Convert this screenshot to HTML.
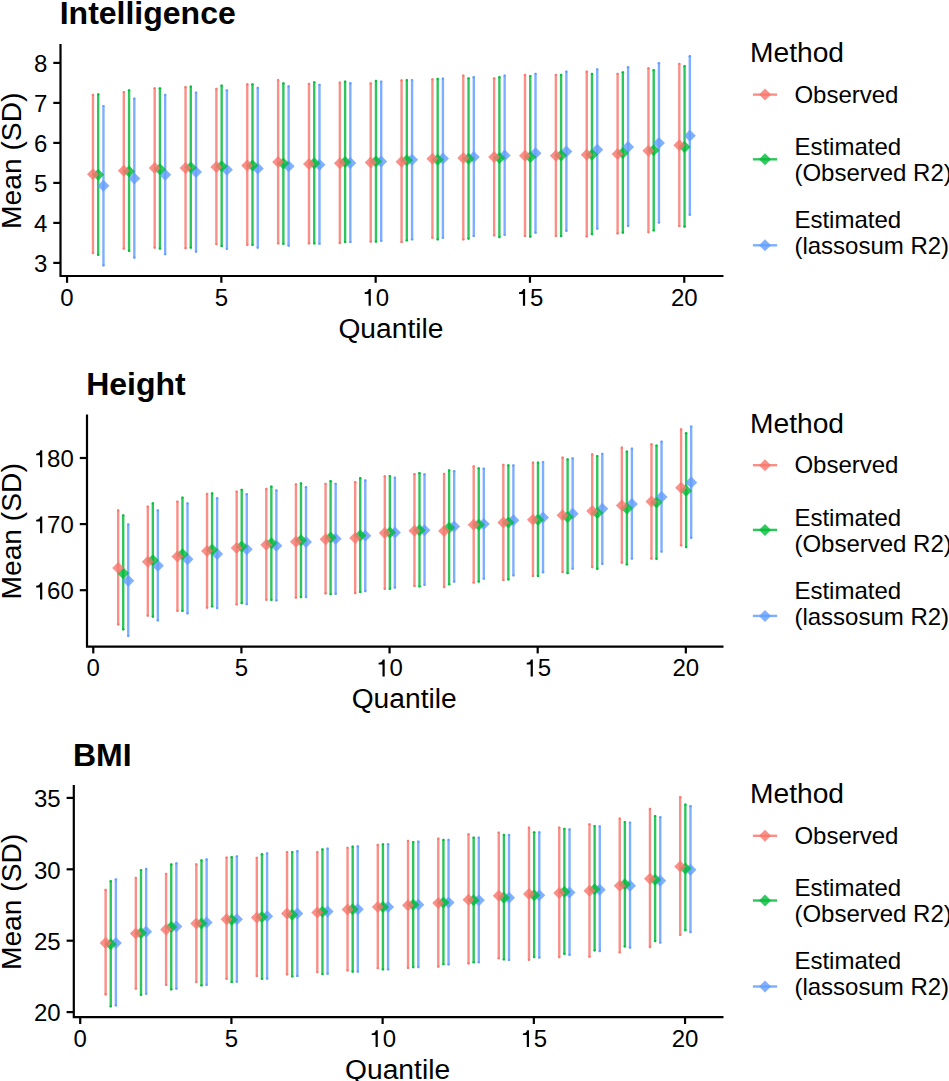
<!DOCTYPE html><html><head><meta charset="utf-8"><style>html,body{margin:0;padding:0;background:#fff;overflow:hidden}svg{display:block}text{font-family:"Liberation Sans",sans-serif;fill:#000}</style></head><body>
<svg width="949" height="1081" viewBox="0 0 949 1081">
<rect width="949" height="1081" fill="#fff"/>
<g><text x="59.7" y="24.4" font-size="32" font-weight="bold">Intelligence</text><line x1="92.96" y1="95.00" x2="92.96" y2="252.99" stroke="#F8766D" stroke-width="2.4" stroke-opacity="0.82" stroke-linecap="round"/><circle cx="92.96" cy="95.00" r="1.20" fill="#F8766D" fill-opacity="0.82"/><circle cx="92.96" cy="252.99" r="1.20" fill="#F8766D" fill-opacity="0.82"/><line x1="98.20" y1="94.55" x2="98.20" y2="254.76" stroke="#00BA38" stroke-width="2.4" stroke-opacity="0.82" stroke-linecap="round"/><circle cx="98.20" cy="94.55" r="1.20" fill="#00BA38" fill-opacity="0.82"/><circle cx="98.20" cy="254.76" r="1.20" fill="#00BA38" fill-opacity="0.82"/><line x1="103.45" y1="106.10" x2="103.45" y2="265.20" stroke="#619CFF" stroke-width="2.4" stroke-opacity="0.82" stroke-linecap="round"/><circle cx="103.45" cy="106.10" r="1.20" fill="#619CFF" fill-opacity="0.82"/><circle cx="103.45" cy="265.20" r="1.20" fill="#619CFF" fill-opacity="0.82"/><path d="M103.45 179.83L109.45 185.83L103.45 191.83L97.45 185.83Z" fill="#619CFF" fill-opacity="0.8"/><path d="M98.20 168.73L104.20 174.73L98.20 180.73L92.20 174.73Z" fill="#00BA38" fill-opacity="0.8"/><path d="M92.96 168.28L98.96 174.28L92.96 180.28L86.96 174.28Z" fill="#F8766D" fill-opacity="0.8"/><line x1="123.82" y1="92.11" x2="123.82" y2="248.55" stroke="#F8766D" stroke-width="2.4" stroke-opacity="0.82" stroke-linecap="round"/><circle cx="123.82" cy="92.11" r="1.20" fill="#F8766D" fill-opacity="0.82"/><circle cx="123.82" cy="248.55" r="1.20" fill="#F8766D" fill-opacity="0.82"/><line x1="129.07" y1="90.56" x2="129.07" y2="250.77" stroke="#00BA38" stroke-width="2.4" stroke-opacity="0.82" stroke-linecap="round"/><circle cx="129.07" cy="90.56" r="1.20" fill="#00BA38" fill-opacity="0.82"/><circle cx="129.07" cy="250.77" r="1.20" fill="#00BA38" fill-opacity="0.82"/><line x1="134.31" y1="98.77" x2="134.31" y2="257.43" stroke="#619CFF" stroke-width="2.4" stroke-opacity="0.82" stroke-linecap="round"/><circle cx="134.31" cy="98.77" r="1.20" fill="#619CFF" fill-opacity="0.82"/><circle cx="134.31" cy="257.43" r="1.20" fill="#619CFF" fill-opacity="0.82"/><path d="M134.31 172.50L140.31 178.50L134.31 184.50L128.31 178.50Z" fill="#619CFF" fill-opacity="0.8"/><path d="M129.07 165.39L135.07 171.39L129.07 177.39L123.07 171.39Z" fill="#00BA38" fill-opacity="0.8"/><path d="M123.82 164.73L129.82 170.73L123.82 176.73L117.82 170.73Z" fill="#F8766D" fill-opacity="0.8"/><line x1="154.68" y1="88.34" x2="154.68" y2="247.44" stroke="#F8766D" stroke-width="2.4" stroke-opacity="0.82" stroke-linecap="round"/><circle cx="154.68" cy="88.34" r="1.20" fill="#F8766D" fill-opacity="0.82"/><circle cx="154.68" cy="247.44" r="1.20" fill="#F8766D" fill-opacity="0.82"/><line x1="159.93" y1="88.34" x2="159.93" y2="248.55" stroke="#00BA38" stroke-width="2.4" stroke-opacity="0.82" stroke-linecap="round"/><circle cx="159.93" cy="88.34" r="1.20" fill="#00BA38" fill-opacity="0.82"/><circle cx="159.93" cy="248.55" r="1.20" fill="#00BA38" fill-opacity="0.82"/><line x1="165.17" y1="95.00" x2="165.17" y2="254.10" stroke="#619CFF" stroke-width="2.4" stroke-opacity="0.82" stroke-linecap="round"/><circle cx="165.17" cy="95.00" r="1.20" fill="#619CFF" fill-opacity="0.82"/><circle cx="165.17" cy="254.10" r="1.20" fill="#619CFF" fill-opacity="0.82"/><path d="M165.17 168.73L171.17 174.73L165.17 180.73L159.17 174.73Z" fill="#619CFF" fill-opacity="0.8"/><path d="M159.93 163.17L165.93 169.17L159.93 175.17L153.93 169.17Z" fill="#00BA38" fill-opacity="0.8"/><path d="M154.68 162.06L160.68 168.06L154.68 174.06L148.68 168.06Z" fill="#F8766D" fill-opacity="0.8"/><line x1="185.54" y1="87.23" x2="185.54" y2="248.10" stroke="#F8766D" stroke-width="2.4" stroke-opacity="0.82" stroke-linecap="round"/><circle cx="185.54" cy="87.23" r="1.20" fill="#F8766D" fill-opacity="0.82"/><circle cx="185.54" cy="248.10" r="1.20" fill="#F8766D" fill-opacity="0.82"/><line x1="190.79" y1="86.78" x2="190.79" y2="247.44" stroke="#00BA38" stroke-width="2.4" stroke-opacity="0.82" stroke-linecap="round"/><circle cx="190.79" cy="86.78" r="1.20" fill="#00BA38" fill-opacity="0.82"/><circle cx="190.79" cy="247.44" r="1.20" fill="#00BA38" fill-opacity="0.82"/><line x1="196.03" y1="92.78" x2="196.03" y2="251.43" stroke="#619CFF" stroke-width="2.4" stroke-opacity="0.82" stroke-linecap="round"/><circle cx="196.03" cy="92.78" r="1.20" fill="#619CFF" fill-opacity="0.82"/><circle cx="196.03" cy="251.43" r="1.20" fill="#619CFF" fill-opacity="0.82"/><path d="M196.03 166.06L202.03 172.06L196.03 178.06L190.03 172.06Z" fill="#619CFF" fill-opacity="0.8"/><path d="M190.79 161.40L196.79 167.40L190.79 173.40L184.79 167.40Z" fill="#00BA38" fill-opacity="0.8"/><path d="M185.54 162.06L191.54 168.06L185.54 174.06L179.54 168.06Z" fill="#F8766D" fill-opacity="0.8"/><line x1="216.40" y1="89.00" x2="216.40" y2="244.11" stroke="#F8766D" stroke-width="2.4" stroke-opacity="0.82" stroke-linecap="round"/><circle cx="216.40" cy="89.00" r="1.20" fill="#F8766D" fill-opacity="0.82"/><circle cx="216.40" cy="244.11" r="1.20" fill="#F8766D" fill-opacity="0.82"/><line x1="221.65" y1="85.67" x2="221.65" y2="245.88" stroke="#00BA38" stroke-width="2.4" stroke-opacity="0.82" stroke-linecap="round"/><circle cx="221.65" cy="85.67" r="1.20" fill="#00BA38" fill-opacity="0.82"/><circle cx="221.65" cy="245.88" r="1.20" fill="#00BA38" fill-opacity="0.82"/><line x1="226.90" y1="90.56" x2="226.90" y2="248.77" stroke="#619CFF" stroke-width="2.4" stroke-opacity="0.82" stroke-linecap="round"/><circle cx="226.90" cy="90.56" r="1.20" fill="#619CFF" fill-opacity="0.82"/><circle cx="226.90" cy="248.77" r="1.20" fill="#619CFF" fill-opacity="0.82"/><path d="M226.90 163.84L232.90 169.84L226.90 175.84L220.90 169.84Z" fill="#619CFF" fill-opacity="0.8"/><path d="M221.65 160.29L227.65 166.29L221.65 172.29L215.65 166.29Z" fill="#00BA38" fill-opacity="0.8"/><path d="M216.40 160.95L222.40 166.95L216.40 172.95L210.40 166.95Z" fill="#F8766D" fill-opacity="0.8"/><line x1="247.26" y1="84.56" x2="247.26" y2="244.77" stroke="#F8766D" stroke-width="2.4" stroke-opacity="0.82" stroke-linecap="round"/><circle cx="247.26" cy="84.56" r="1.20" fill="#F8766D" fill-opacity="0.82"/><circle cx="247.26" cy="244.77" r="1.20" fill="#F8766D" fill-opacity="0.82"/><line x1="252.51" y1="84.34" x2="252.51" y2="244.77" stroke="#00BA38" stroke-width="2.4" stroke-opacity="0.82" stroke-linecap="round"/><circle cx="252.51" cy="84.34" r="1.20" fill="#00BA38" fill-opacity="0.82"/><circle cx="252.51" cy="244.77" r="1.20" fill="#00BA38" fill-opacity="0.82"/><line x1="257.76" y1="87.89" x2="257.76" y2="247.44" stroke="#619CFF" stroke-width="2.4" stroke-opacity="0.82" stroke-linecap="round"/><circle cx="257.76" cy="87.89" r="1.20" fill="#619CFF" fill-opacity="0.82"/><circle cx="257.76" cy="247.44" r="1.20" fill="#619CFF" fill-opacity="0.82"/><path d="M257.76 162.51L263.76 168.51L257.76 174.51L251.76 168.51Z" fill="#619CFF" fill-opacity="0.8"/><path d="M252.51 159.40L258.51 165.40L252.51 171.40L246.51 165.40Z" fill="#00BA38" fill-opacity="0.8"/><path d="M247.26 159.40L253.26 165.40L247.26 171.40L241.26 165.40Z" fill="#F8766D" fill-opacity="0.8"/><line x1="278.13" y1="80.12" x2="278.13" y2="243.22" stroke="#F8766D" stroke-width="2.4" stroke-opacity="0.82" stroke-linecap="round"/><circle cx="278.13" cy="80.12" r="1.20" fill="#F8766D" fill-opacity="0.82"/><circle cx="278.13" cy="243.22" r="1.20" fill="#F8766D" fill-opacity="0.82"/><line x1="283.37" y1="83.45" x2="283.37" y2="243.66" stroke="#00BA38" stroke-width="2.4" stroke-opacity="0.82" stroke-linecap="round"/><circle cx="283.37" cy="83.45" r="1.20" fill="#00BA38" fill-opacity="0.82"/><circle cx="283.37" cy="243.66" r="1.20" fill="#00BA38" fill-opacity="0.82"/><line x1="288.62" y1="86.56" x2="288.62" y2="245.44" stroke="#619CFF" stroke-width="2.4" stroke-opacity="0.82" stroke-linecap="round"/><circle cx="288.62" cy="86.56" r="1.20" fill="#619CFF" fill-opacity="0.82"/><circle cx="288.62" cy="245.44" r="1.20" fill="#619CFF" fill-opacity="0.82"/><path d="M288.62 160.29L294.62 166.29L288.62 172.29L282.62 166.29Z" fill="#619CFF" fill-opacity="0.8"/><path d="M283.37 157.62L289.37 163.62L283.37 169.62L277.37 163.62Z" fill="#00BA38" fill-opacity="0.8"/><path d="M278.13 156.07L284.13 162.07L278.13 168.07L272.13 162.07Z" fill="#F8766D" fill-opacity="0.8"/><line x1="308.99" y1="83.89" x2="308.99" y2="243.22" stroke="#F8766D" stroke-width="2.4" stroke-opacity="0.82" stroke-linecap="round"/><circle cx="308.99" cy="83.89" r="1.20" fill="#F8766D" fill-opacity="0.82"/><circle cx="308.99" cy="243.22" r="1.20" fill="#F8766D" fill-opacity="0.82"/><line x1="314.23" y1="82.34" x2="314.23" y2="243.22" stroke="#00BA38" stroke-width="2.4" stroke-opacity="0.82" stroke-linecap="round"/><circle cx="314.23" cy="82.34" r="1.20" fill="#00BA38" fill-opacity="0.82"/><circle cx="314.23" cy="243.22" r="1.20" fill="#00BA38" fill-opacity="0.82"/><line x1="319.48" y1="85.00" x2="319.48" y2="243.66" stroke="#619CFF" stroke-width="2.4" stroke-opacity="0.82" stroke-linecap="round"/><circle cx="319.48" cy="85.00" r="1.20" fill="#619CFF" fill-opacity="0.82"/><circle cx="319.48" cy="243.66" r="1.20" fill="#619CFF" fill-opacity="0.82"/><path d="M319.48 158.73L325.48 164.73L319.48 170.73L313.48 164.73Z" fill="#619CFF" fill-opacity="0.8"/><path d="M314.23 157.18L320.23 163.18L314.23 169.18L308.23 163.18Z" fill="#00BA38" fill-opacity="0.8"/><path d="M308.99 158.07L314.99 164.07L308.99 170.07L302.99 164.07Z" fill="#F8766D" fill-opacity="0.8"/><line x1="339.85" y1="82.78" x2="339.85" y2="243.00" stroke="#F8766D" stroke-width="2.4" stroke-opacity="0.82" stroke-linecap="round"/><circle cx="339.85" cy="82.78" r="1.20" fill="#F8766D" fill-opacity="0.82"/><circle cx="339.85" cy="243.00" r="1.20" fill="#F8766D" fill-opacity="0.82"/><line x1="345.09" y1="81.67" x2="345.09" y2="241.89" stroke="#00BA38" stroke-width="2.4" stroke-opacity="0.82" stroke-linecap="round"/><circle cx="345.09" cy="81.67" r="1.20" fill="#00BA38" fill-opacity="0.82"/><circle cx="345.09" cy="241.89" r="1.20" fill="#00BA38" fill-opacity="0.82"/><line x1="350.34" y1="83.23" x2="350.34" y2="241.89" stroke="#619CFF" stroke-width="2.4" stroke-opacity="0.82" stroke-linecap="round"/><circle cx="350.34" cy="83.23" r="1.20" fill="#619CFF" fill-opacity="0.82"/><circle cx="350.34" cy="241.89" r="1.20" fill="#619CFF" fill-opacity="0.82"/><path d="M350.34 156.96L356.34 162.96L350.34 168.96L344.34 162.96Z" fill="#619CFF" fill-opacity="0.8"/><path d="M345.09 156.07L351.09 162.07L345.09 168.07L339.09 162.07Z" fill="#00BA38" fill-opacity="0.8"/><path d="M339.85 157.18L345.85 163.18L339.85 169.18L333.85 163.18Z" fill="#F8766D" fill-opacity="0.8"/><line x1="370.71" y1="83.45" x2="370.71" y2="241.44" stroke="#F8766D" stroke-width="2.4" stroke-opacity="0.82" stroke-linecap="round"/><circle cx="370.71" cy="83.45" r="1.20" fill="#F8766D" fill-opacity="0.82"/><circle cx="370.71" cy="241.44" r="1.20" fill="#F8766D" fill-opacity="0.82"/><line x1="375.96" y1="81.01" x2="375.96" y2="241.44" stroke="#00BA38" stroke-width="2.4" stroke-opacity="0.82" stroke-linecap="round"/><circle cx="375.96" cy="81.01" r="1.20" fill="#00BA38" fill-opacity="0.82"/><circle cx="375.96" cy="241.44" r="1.20" fill="#00BA38" fill-opacity="0.82"/><line x1="381.20" y1="81.67" x2="381.20" y2="240.78" stroke="#619CFF" stroke-width="2.4" stroke-opacity="0.82" stroke-linecap="round"/><circle cx="381.20" cy="81.67" r="1.20" fill="#619CFF" fill-opacity="0.82"/><circle cx="381.20" cy="240.78" r="1.20" fill="#619CFF" fill-opacity="0.82"/><path d="M381.20 155.40L387.20 161.40L381.20 167.40L375.20 161.40Z" fill="#619CFF" fill-opacity="0.8"/><path d="M375.96 155.40L381.96 161.40L375.96 167.40L369.96 161.40Z" fill="#00BA38" fill-opacity="0.8"/><path d="M370.71 156.51L376.71 162.51L370.71 168.51L364.71 162.51Z" fill="#F8766D" fill-opacity="0.8"/><line x1="401.57" y1="80.56" x2="401.57" y2="241.89" stroke="#F8766D" stroke-width="2.4" stroke-opacity="0.82" stroke-linecap="round"/><circle cx="401.57" cy="80.56" r="1.20" fill="#F8766D" fill-opacity="0.82"/><circle cx="401.57" cy="241.89" r="1.20" fill="#F8766D" fill-opacity="0.82"/><line x1="406.82" y1="80.12" x2="406.82" y2="240.33" stroke="#00BA38" stroke-width="2.4" stroke-opacity="0.82" stroke-linecap="round"/><circle cx="406.82" cy="80.12" r="1.20" fill="#00BA38" fill-opacity="0.82"/><circle cx="406.82" cy="240.33" r="1.20" fill="#00BA38" fill-opacity="0.82"/><line x1="412.06" y1="80.12" x2="412.06" y2="239.22" stroke="#619CFF" stroke-width="2.4" stroke-opacity="0.82" stroke-linecap="round"/><circle cx="412.06" cy="80.12" r="1.20" fill="#619CFF" fill-opacity="0.82"/><circle cx="412.06" cy="239.22" r="1.20" fill="#619CFF" fill-opacity="0.82"/><path d="M412.06 153.85L418.06 159.85L412.06 165.85L406.06 159.85Z" fill="#619CFF" fill-opacity="0.8"/><path d="M406.82 154.29L412.82 160.29L406.82 166.29L400.82 160.29Z" fill="#00BA38" fill-opacity="0.8"/><path d="M401.57 155.85L407.57 161.85L401.57 167.85L395.57 161.85Z" fill="#F8766D" fill-opacity="0.8"/><line x1="432.43" y1="79.45" x2="432.43" y2="237.67" stroke="#F8766D" stroke-width="2.4" stroke-opacity="0.82" stroke-linecap="round"/><circle cx="432.43" cy="79.45" r="1.20" fill="#F8766D" fill-opacity="0.82"/><circle cx="432.43" cy="237.67" r="1.20" fill="#F8766D" fill-opacity="0.82"/><line x1="437.68" y1="79.01" x2="437.68" y2="239.22" stroke="#00BA38" stroke-width="2.4" stroke-opacity="0.82" stroke-linecap="round"/><circle cx="437.68" cy="79.01" r="1.20" fill="#00BA38" fill-opacity="0.82"/><circle cx="437.68" cy="239.22" r="1.20" fill="#00BA38" fill-opacity="0.82"/><line x1="442.92" y1="78.79" x2="442.92" y2="237.67" stroke="#619CFF" stroke-width="2.4" stroke-opacity="0.82" stroke-linecap="round"/><circle cx="442.92" cy="78.79" r="1.20" fill="#619CFF" fill-opacity="0.82"/><circle cx="442.92" cy="237.67" r="1.20" fill="#619CFF" fill-opacity="0.82"/><path d="M442.92 152.52L448.92 158.52L442.92 164.52L436.92 158.52Z" fill="#619CFF" fill-opacity="0.8"/><path d="M437.68 153.63L443.68 159.63L437.68 165.63L431.68 159.63Z" fill="#00BA38" fill-opacity="0.8"/><path d="M432.43 152.74L438.43 158.74L432.43 164.74L426.43 158.74Z" fill="#F8766D" fill-opacity="0.8"/><line x1="463.29" y1="75.68" x2="463.29" y2="239.22" stroke="#F8766D" stroke-width="2.4" stroke-opacity="0.82" stroke-linecap="round"/><circle cx="463.29" cy="75.68" r="1.20" fill="#F8766D" fill-opacity="0.82"/><circle cx="463.29" cy="239.22" r="1.20" fill="#F8766D" fill-opacity="0.82"/><line x1="468.54" y1="78.34" x2="468.54" y2="238.56" stroke="#00BA38" stroke-width="2.4" stroke-opacity="0.82" stroke-linecap="round"/><circle cx="468.54" cy="78.34" r="1.20" fill="#00BA38" fill-opacity="0.82"/><circle cx="468.54" cy="238.56" r="1.20" fill="#00BA38" fill-opacity="0.82"/><line x1="473.79" y1="77.23" x2="473.79" y2="235.89" stroke="#619CFF" stroke-width="2.4" stroke-opacity="0.82" stroke-linecap="round"/><circle cx="473.79" cy="77.23" r="1.20" fill="#619CFF" fill-opacity="0.82"/><circle cx="473.79" cy="235.89" r="1.20" fill="#619CFF" fill-opacity="0.82"/><path d="M473.79 150.96L479.79 156.96L473.79 162.96L467.79 156.96Z" fill="#619CFF" fill-opacity="0.8"/><path d="M468.54 152.74L474.54 158.74L468.54 164.74L462.54 158.74Z" fill="#00BA38" fill-opacity="0.8"/><path d="M463.29 152.07L469.29 158.07L463.29 164.07L457.29 158.07Z" fill="#F8766D" fill-opacity="0.8"/><line x1="494.15" y1="78.34" x2="494.15" y2="235.23" stroke="#F8766D" stroke-width="2.4" stroke-opacity="0.82" stroke-linecap="round"/><circle cx="494.15" cy="78.34" r="1.20" fill="#F8766D" fill-opacity="0.82"/><circle cx="494.15" cy="235.23" r="1.20" fill="#F8766D" fill-opacity="0.82"/><line x1="499.40" y1="77.23" x2="499.40" y2="237.00" stroke="#00BA38" stroke-width="2.4" stroke-opacity="0.82" stroke-linecap="round"/><circle cx="499.40" cy="77.23" r="1.20" fill="#00BA38" fill-opacity="0.82"/><circle cx="499.40" cy="237.00" r="1.20" fill="#00BA38" fill-opacity="0.82"/><line x1="504.65" y1="75.68" x2="504.65" y2="234.78" stroke="#619CFF" stroke-width="2.4" stroke-opacity="0.82" stroke-linecap="round"/><circle cx="504.65" cy="75.68" r="1.20" fill="#619CFF" fill-opacity="0.82"/><circle cx="504.65" cy="234.78" r="1.20" fill="#619CFF" fill-opacity="0.82"/><path d="M504.65 149.41L510.65 155.41L504.65 161.41L498.65 155.41Z" fill="#619CFF" fill-opacity="0.8"/><path d="M499.40 152.07L505.40 158.07L499.40 164.07L493.40 158.07Z" fill="#00BA38" fill-opacity="0.8"/><path d="M494.15 150.96L500.15 156.96L494.15 162.96L488.15 156.96Z" fill="#F8766D" fill-opacity="0.8"/><line x1="525.02" y1="75.01" x2="525.02" y2="235.89" stroke="#F8766D" stroke-width="2.4" stroke-opacity="0.82" stroke-linecap="round"/><circle cx="525.02" cy="75.01" r="1.20" fill="#F8766D" fill-opacity="0.82"/><circle cx="525.02" cy="235.89" r="1.20" fill="#F8766D" fill-opacity="0.82"/><line x1="530.26" y1="76.12" x2="530.26" y2="236.56" stroke="#00BA38" stroke-width="2.4" stroke-opacity="0.82" stroke-linecap="round"/><circle cx="530.26" cy="76.12" r="1.20" fill="#00BA38" fill-opacity="0.82"/><circle cx="530.26" cy="236.56" r="1.20" fill="#00BA38" fill-opacity="0.82"/><line x1="535.51" y1="73.90" x2="535.51" y2="232.56" stroke="#619CFF" stroke-width="2.4" stroke-opacity="0.82" stroke-linecap="round"/><circle cx="535.51" cy="73.90" r="1.20" fill="#619CFF" fill-opacity="0.82"/><circle cx="535.51" cy="232.56" r="1.20" fill="#619CFF" fill-opacity="0.82"/><path d="M535.51 147.19L541.51 153.19L535.51 159.19L529.51 153.19Z" fill="#619CFF" fill-opacity="0.8"/><path d="M530.26 150.96L536.26 156.96L530.26 162.96L524.26 156.96Z" fill="#00BA38" fill-opacity="0.8"/><path d="M525.02 149.85L531.02 155.85L525.02 161.85L519.02 155.85Z" fill="#F8766D" fill-opacity="0.8"/><line x1="555.88" y1="75.01" x2="555.88" y2="235.89" stroke="#F8766D" stroke-width="2.4" stroke-opacity="0.82" stroke-linecap="round"/><circle cx="555.88" cy="75.01" r="1.20" fill="#F8766D" fill-opacity="0.82"/><circle cx="555.88" cy="235.89" r="1.20" fill="#F8766D" fill-opacity="0.82"/><line x1="561.12" y1="75.01" x2="561.12" y2="235.89" stroke="#00BA38" stroke-width="2.4" stroke-opacity="0.82" stroke-linecap="round"/><circle cx="561.12" cy="75.01" r="1.20" fill="#00BA38" fill-opacity="0.82"/><circle cx="561.12" cy="235.89" r="1.20" fill="#00BA38" fill-opacity="0.82"/><line x1="566.37" y1="71.68" x2="566.37" y2="230.79" stroke="#619CFF" stroke-width="2.4" stroke-opacity="0.82" stroke-linecap="round"/><circle cx="566.37" cy="71.68" r="1.20" fill="#619CFF" fill-opacity="0.82"/><circle cx="566.37" cy="230.79" r="1.20" fill="#619CFF" fill-opacity="0.82"/><path d="M566.37 145.41L572.37 151.41L566.37 157.41L560.37 151.41Z" fill="#619CFF" fill-opacity="0.8"/><path d="M561.12 149.41L567.12 155.41L561.12 161.41L555.12 155.41Z" fill="#00BA38" fill-opacity="0.8"/><path d="M555.88 149.85L561.88 155.85L555.88 161.85L549.88 155.85Z" fill="#F8766D" fill-opacity="0.8"/><line x1="586.74" y1="71.68" x2="586.74" y2="236.34" stroke="#F8766D" stroke-width="2.4" stroke-opacity="0.82" stroke-linecap="round"/><circle cx="586.74" cy="71.68" r="1.20" fill="#F8766D" fill-opacity="0.82"/><circle cx="586.74" cy="236.34" r="1.20" fill="#F8766D" fill-opacity="0.82"/><line x1="591.98" y1="73.90" x2="591.98" y2="234.12" stroke="#00BA38" stroke-width="2.4" stroke-opacity="0.82" stroke-linecap="round"/><circle cx="591.98" cy="73.90" r="1.20" fill="#00BA38" fill-opacity="0.82"/><circle cx="591.98" cy="234.12" r="1.20" fill="#00BA38" fill-opacity="0.82"/><line x1="597.23" y1="69.46" x2="597.23" y2="228.57" stroke="#619CFF" stroke-width="2.4" stroke-opacity="0.82" stroke-linecap="round"/><circle cx="597.23" cy="69.46" r="1.20" fill="#619CFF" fill-opacity="0.82"/><circle cx="597.23" cy="228.57" r="1.20" fill="#619CFF" fill-opacity="0.82"/><path d="M597.23 143.64L603.23 149.64L597.23 155.64L591.23 149.64Z" fill="#619CFF" fill-opacity="0.8"/><path d="M591.98 148.74L597.98 154.74L591.98 160.74L585.98 154.74Z" fill="#00BA38" fill-opacity="0.8"/><path d="M586.74 148.74L592.74 154.74L586.74 160.74L580.74 154.74Z" fill="#F8766D" fill-opacity="0.8"/><line x1="617.60" y1="73.90" x2="617.60" y2="233.23" stroke="#F8766D" stroke-width="2.4" stroke-opacity="0.82" stroke-linecap="round"/><circle cx="617.60" cy="73.90" r="1.20" fill="#F8766D" fill-opacity="0.82"/><circle cx="617.60" cy="233.23" r="1.20" fill="#F8766D" fill-opacity="0.82"/><line x1="622.85" y1="72.35" x2="622.85" y2="232.56" stroke="#00BA38" stroke-width="2.4" stroke-opacity="0.82" stroke-linecap="round"/><circle cx="622.85" cy="72.35" r="1.20" fill="#00BA38" fill-opacity="0.82"/><circle cx="622.85" cy="232.56" r="1.20" fill="#00BA38" fill-opacity="0.82"/><line x1="628.09" y1="67.24" x2="628.09" y2="225.90" stroke="#619CFF" stroke-width="2.4" stroke-opacity="0.82" stroke-linecap="round"/><circle cx="628.09" cy="67.24" r="1.20" fill="#619CFF" fill-opacity="0.82"/><circle cx="628.09" cy="225.90" r="1.20" fill="#619CFF" fill-opacity="0.82"/><path d="M628.09 140.97L634.09 146.97L628.09 152.97L622.09 146.97Z" fill="#619CFF" fill-opacity="0.8"/><path d="M622.85 146.97L628.85 152.97L622.85 158.97L616.85 152.97Z" fill="#00BA38" fill-opacity="0.8"/><path d="M617.60 148.08L623.60 154.08L617.60 160.08L611.60 154.08Z" fill="#F8766D" fill-opacity="0.8"/><line x1="648.46" y1="68.35" x2="648.46" y2="232.12" stroke="#F8766D" stroke-width="2.4" stroke-opacity="0.82" stroke-linecap="round"/><circle cx="648.46" cy="68.35" r="1.20" fill="#F8766D" fill-opacity="0.82"/><circle cx="648.46" cy="232.12" r="1.20" fill="#F8766D" fill-opacity="0.82"/><line x1="653.71" y1="70.13" x2="653.71" y2="230.34" stroke="#00BA38" stroke-width="2.4" stroke-opacity="0.82" stroke-linecap="round"/><circle cx="653.71" cy="70.13" r="1.20" fill="#00BA38" fill-opacity="0.82"/><circle cx="653.71" cy="230.34" r="1.20" fill="#00BA38" fill-opacity="0.82"/><line x1="658.95" y1="63.25" x2="658.95" y2="222.57" stroke="#619CFF" stroke-width="2.4" stroke-opacity="0.82" stroke-linecap="round"/><circle cx="658.95" cy="63.25" r="1.20" fill="#619CFF" fill-opacity="0.82"/><circle cx="658.95" cy="222.57" r="1.20" fill="#619CFF" fill-opacity="0.82"/><path d="M658.95 136.98L664.95 142.98L658.95 148.98L652.95 142.98Z" fill="#619CFF" fill-opacity="0.8"/><path d="M653.71 144.30L659.71 150.30L653.71 156.30L647.71 150.30Z" fill="#00BA38" fill-opacity="0.8"/><path d="M648.46 144.75L654.46 150.75L648.46 156.75L642.46 150.75Z" fill="#F8766D" fill-opacity="0.8"/><line x1="679.32" y1="63.91" x2="679.32" y2="225.90" stroke="#F8766D" stroke-width="2.4" stroke-opacity="0.82" stroke-linecap="round"/><circle cx="679.32" cy="63.91" r="1.20" fill="#F8766D" fill-opacity="0.82"/><circle cx="679.32" cy="225.90" r="1.20" fill="#F8766D" fill-opacity="0.82"/><line x1="684.57" y1="66.13" x2="684.57" y2="226.57" stroke="#00BA38" stroke-width="2.4" stroke-opacity="0.82" stroke-linecap="round"/><circle cx="684.57" cy="66.13" r="1.20" fill="#00BA38" fill-opacity="0.82"/><circle cx="684.57" cy="226.57" r="1.20" fill="#00BA38" fill-opacity="0.82"/><line x1="689.81" y1="56.14" x2="689.81" y2="214.80" stroke="#619CFF" stroke-width="2.4" stroke-opacity="0.82" stroke-linecap="round"/><circle cx="689.81" cy="56.14" r="1.20" fill="#619CFF" fill-opacity="0.82"/><circle cx="689.81" cy="214.80" r="1.20" fill="#619CFF" fill-opacity="0.82"/><path d="M689.81 129.87L695.81 135.87L689.81 141.87L683.81 135.87Z" fill="#619CFF" fill-opacity="0.8"/><path d="M684.57 140.97L690.57 146.97L684.57 152.97L678.57 146.97Z" fill="#00BA38" fill-opacity="0.8"/><path d="M679.32 139.20L685.32 145.20L679.32 151.20L673.32 145.20Z" fill="#F8766D" fill-opacity="0.8"/><path d="M60.50 45.00V276.00H722.40" fill="none" stroke="#000" stroke-width="2.2" stroke-linejoin="miter" stroke-linecap="square"/><line x1="53.30" y1="262.90" x2="60.50" y2="262.90" stroke="#000" stroke-width="2.2" stroke-linecap="butt"/><text x="33.96" y="272.10" font-size="24.0">3</text><line x1="53.30" y1="222.90" x2="60.50" y2="222.90" stroke="#000" stroke-width="2.2" stroke-linecap="butt"/><text x="33.96" y="232.10" font-size="24.0">4</text><line x1="53.30" y1="182.90" x2="60.50" y2="182.90" stroke="#000" stroke-width="2.2" stroke-linecap="butt"/><text x="33.96" y="192.10" font-size="24.0">5</text><line x1="53.30" y1="142.90" x2="60.50" y2="142.90" stroke="#000" stroke-width="2.2" stroke-linecap="butt"/><text x="33.96" y="152.10" font-size="24.0">6</text><line x1="53.30" y1="102.90" x2="60.50" y2="102.90" stroke="#000" stroke-width="2.2" stroke-linecap="butt"/><text x="33.96" y="112.10" font-size="24.0">7</text><line x1="53.30" y1="62.90" x2="60.50" y2="62.90" stroke="#000" stroke-width="2.2" stroke-linecap="butt"/><text x="33.96" y="72.10" font-size="24.0">8</text><line x1="67.04" y1="276.00" x2="67.04" y2="282.80" stroke="#000" stroke-width="2.2" stroke-linecap="butt"/><text x="60.37" y="305.80" font-size="24.0">0</text><line x1="221.35" y1="276.00" x2="221.35" y2="282.80" stroke="#000" stroke-width="2.2" stroke-linecap="butt"/><text x="214.68" y="305.80" font-size="24.0">5</text><line x1="375.66" y1="276.00" x2="375.66" y2="282.80" stroke="#000" stroke-width="2.2" stroke-linecap="butt"/><path transform="translate(362.31 305.80) scale(0.0240 -0.0240)" d="M354 0L262 0L262 496L100 496L100 565C200 572 250 605 272 702L354 702Z"/><text x="375.66" y="305.80" font-size="24.0">0</text><line x1="529.96" y1="276.00" x2="529.96" y2="282.80" stroke="#000" stroke-width="2.2" stroke-linecap="butt"/><path transform="translate(516.62 305.80) scale(0.0240 -0.0240)" d="M354 0L262 0L262 496L100 496L100 565C200 572 250 605 272 702L354 702Z"/><text x="529.96" y="305.80" font-size="24.0">5</text><line x1="684.27" y1="276.00" x2="684.27" y2="282.80" stroke="#000" stroke-width="2.2" stroke-linecap="butt"/><text x="670.92" y="305.80" font-size="24.0">2</text><text x="684.27" y="305.80" font-size="24.0">0</text><text x="390.95" y="337.50" font-size="28.2" text-anchor="middle">Quantile</text><text transform="translate(20.6 160.75) rotate(-90)" x="0" y="0" font-size="28.2" text-anchor="middle">Mean (SD)</text><text x="750.0" y="61.90" font-size="28.2">Method</text><line x1="752.9" y1="94.60" x2="777.1" y2="94.60" stroke="#F8766D" stroke-width="2.4" stroke-opacity="0.82"/><path d="M765.00 88.60L771.00 94.60L765.00 100.60L759.00 94.60Z" fill="#F8766D" fill-opacity="0.8"/><line x1="752.9" y1="159.30" x2="777.1" y2="159.30" stroke="#00BA38" stroke-width="2.4" stroke-opacity="0.82"/><path d="M765.00 153.30L771.00 159.30L765.00 165.30L759.00 159.30Z" fill="#00BA38" fill-opacity="0.8"/><line x1="752.9" y1="245.30" x2="777.1" y2="245.30" stroke="#619CFF" stroke-width="2.4" stroke-opacity="0.82"/><path d="M765.00 239.30L771.00 245.30L765.00 251.30L759.00 245.30Z" fill="#619CFF" fill-opacity="0.8"/><text x="794.4" y="102.80" font-size="24.0">Observed</text><text x="794.4" y="154.90" font-size="24.0">Estimated</text><text x="794.4" y="181.00" font-size="24.0">(Observed R2)</text><text x="794.4" y="228.20" font-size="24.0">Estimated</text><text x="794.4" y="253.90" font-size="24.0">(lassosum R2)</text></g>
<g><text x="86.2" y="395.0" font-size="32" font-weight="bold">Height</text><line x1="118.17" y1="510.51" x2="118.17" y2="624.32" stroke="#F8766D" stroke-width="2.4" stroke-opacity="0.82" stroke-linecap="round"/><circle cx="118.17" cy="510.51" r="1.20" fill="#F8766D" fill-opacity="0.82"/><circle cx="118.17" cy="624.32" r="1.20" fill="#F8766D" fill-opacity="0.82"/><line x1="123.21" y1="515.40" x2="123.21" y2="629.20" stroke="#00BA38" stroke-width="2.4" stroke-opacity="0.82" stroke-linecap="round"/><circle cx="123.21" cy="515.40" r="1.20" fill="#00BA38" fill-opacity="0.82"/><circle cx="123.21" cy="629.20" r="1.20" fill="#00BA38" fill-opacity="0.82"/><line x1="128.25" y1="524.50" x2="128.25" y2="635.87" stroke="#619CFF" stroke-width="2.4" stroke-opacity="0.82" stroke-linecap="round"/><circle cx="128.25" cy="524.50" r="1.20" fill="#619CFF" fill-opacity="0.82"/><circle cx="128.25" cy="635.87" r="1.20" fill="#619CFF" fill-opacity="0.82"/><path d="M128.25 574.69L134.25 580.69L128.25 586.69L122.25 580.69Z" fill="#619CFF" fill-opacity="0.8"/><path d="M123.21 567.14L129.21 573.14L123.21 579.14L117.21 573.14Z" fill="#00BA38" fill-opacity="0.8"/><path d="M118.17 562.04L124.17 568.04L118.17 574.04L112.17 568.04Z" fill="#F8766D" fill-opacity="0.8"/><line x1="147.80" y1="506.74" x2="147.80" y2="615.44" stroke="#F8766D" stroke-width="2.4" stroke-opacity="0.82" stroke-linecap="round"/><circle cx="147.80" cy="506.74" r="1.20" fill="#F8766D" fill-opacity="0.82"/><circle cx="147.80" cy="615.44" r="1.20" fill="#F8766D" fill-opacity="0.82"/><line x1="152.84" y1="503.41" x2="152.84" y2="616.55" stroke="#00BA38" stroke-width="2.4" stroke-opacity="0.82" stroke-linecap="round"/><circle cx="152.84" cy="503.41" r="1.20" fill="#00BA38" fill-opacity="0.82"/><circle cx="152.84" cy="616.55" r="1.20" fill="#00BA38" fill-opacity="0.82"/><line x1="157.87" y1="510.51" x2="157.87" y2="620.32" stroke="#619CFF" stroke-width="2.4" stroke-opacity="0.82" stroke-linecap="round"/><circle cx="157.87" cy="510.51" r="1.20" fill="#619CFF" fill-opacity="0.82"/><circle cx="157.87" cy="620.32" r="1.20" fill="#619CFF" fill-opacity="0.82"/><path d="M157.87 559.82L163.87 565.82L157.87 571.82L151.87 565.82Z" fill="#619CFF" fill-opacity="0.8"/><path d="M152.84 554.27L158.84 560.27L152.84 566.27L146.84 560.27Z" fill="#00BA38" fill-opacity="0.8"/><path d="M147.80 555.82L153.80 561.82L147.80 567.82L141.80 561.82Z" fill="#F8766D" fill-opacity="0.8"/><line x1="177.43" y1="501.63" x2="177.43" y2="610.78" stroke="#F8766D" stroke-width="2.4" stroke-opacity="0.82" stroke-linecap="round"/><circle cx="177.43" cy="501.63" r="1.20" fill="#F8766D" fill-opacity="0.82"/><circle cx="177.43" cy="610.78" r="1.20" fill="#F8766D" fill-opacity="0.82"/><line x1="182.46" y1="497.63" x2="182.46" y2="610.78" stroke="#00BA38" stroke-width="2.4" stroke-opacity="0.82" stroke-linecap="round"/><circle cx="182.46" cy="497.63" r="1.20" fill="#00BA38" fill-opacity="0.82"/><circle cx="182.46" cy="610.78" r="1.20" fill="#00BA38" fill-opacity="0.82"/><line x1="187.50" y1="503.41" x2="187.50" y2="613.22" stroke="#619CFF" stroke-width="2.4" stroke-opacity="0.82" stroke-linecap="round"/><circle cx="187.50" cy="503.41" r="1.20" fill="#619CFF" fill-opacity="0.82"/><circle cx="187.50" cy="613.22" r="1.20" fill="#619CFF" fill-opacity="0.82"/><path d="M187.50 553.16L193.50 559.16L187.50 565.16L181.50 559.16Z" fill="#619CFF" fill-opacity="0.8"/><path d="M182.46 548.27L188.46 554.27L182.46 560.27L176.46 554.27Z" fill="#00BA38" fill-opacity="0.8"/><path d="M177.43 550.49L183.43 556.49L177.43 562.49L171.43 556.49Z" fill="#F8766D" fill-opacity="0.8"/><line x1="207.05" y1="493.86" x2="207.05" y2="607.45" stroke="#F8766D" stroke-width="2.4" stroke-opacity="0.82" stroke-linecap="round"/><circle cx="207.05" cy="493.86" r="1.20" fill="#F8766D" fill-opacity="0.82"/><circle cx="207.05" cy="607.45" r="1.20" fill="#F8766D" fill-opacity="0.82"/><line x1="212.09" y1="493.42" x2="212.09" y2="606.34" stroke="#00BA38" stroke-width="2.4" stroke-opacity="0.82" stroke-linecap="round"/><circle cx="212.09" cy="493.42" r="1.20" fill="#00BA38" fill-opacity="0.82"/><circle cx="212.09" cy="606.34" r="1.20" fill="#00BA38" fill-opacity="0.82"/><line x1="217.13" y1="498.30" x2="217.13" y2="608.11" stroke="#619CFF" stroke-width="2.4" stroke-opacity="0.82" stroke-linecap="round"/><circle cx="217.13" cy="498.30" r="1.20" fill="#619CFF" fill-opacity="0.82"/><circle cx="217.13" cy="608.11" r="1.20" fill="#619CFF" fill-opacity="0.82"/><path d="M217.13 548.05L223.13 554.05L217.13 560.05L211.13 554.05Z" fill="#619CFF" fill-opacity="0.8"/><path d="M212.09 543.83L218.09 549.83L212.09 555.83L206.09 549.83Z" fill="#00BA38" fill-opacity="0.8"/><path d="M207.05 544.94L213.05 550.94L207.05 556.94L201.05 550.94Z" fill="#F8766D" fill-opacity="0.8"/><line x1="236.68" y1="491.64" x2="236.68" y2="604.34" stroke="#F8766D" stroke-width="2.4" stroke-opacity="0.82" stroke-linecap="round"/><circle cx="236.68" cy="491.64" r="1.20" fill="#F8766D" fill-opacity="0.82"/><circle cx="236.68" cy="604.34" r="1.20" fill="#F8766D" fill-opacity="0.82"/><line x1="241.72" y1="489.86" x2="241.72" y2="603.01" stroke="#00BA38" stroke-width="2.4" stroke-opacity="0.82" stroke-linecap="round"/><circle cx="241.72" cy="489.86" r="1.20" fill="#00BA38" fill-opacity="0.82"/><circle cx="241.72" cy="603.01" r="1.20" fill="#00BA38" fill-opacity="0.82"/><line x1="246.76" y1="494.30" x2="246.76" y2="604.12" stroke="#619CFF" stroke-width="2.4" stroke-opacity="0.82" stroke-linecap="round"/><circle cx="246.76" cy="494.30" r="1.20" fill="#619CFF" fill-opacity="0.82"/><circle cx="246.76" cy="604.12" r="1.20" fill="#619CFF" fill-opacity="0.82"/><path d="M246.76 543.17L252.76 549.17L246.76 555.17L240.76 549.17Z" fill="#619CFF" fill-opacity="0.8"/><path d="M241.72 540.50L247.72 546.50L241.72 552.50L235.72 546.50Z" fill="#00BA38" fill-opacity="0.8"/><path d="M236.68 542.06L242.68 548.06L236.68 554.06L230.68 548.06Z" fill="#F8766D" fill-opacity="0.8"/><line x1="266.31" y1="488.97" x2="266.31" y2="599.68" stroke="#F8766D" stroke-width="2.4" stroke-opacity="0.82" stroke-linecap="round"/><circle cx="266.31" cy="488.97" r="1.20" fill="#F8766D" fill-opacity="0.82"/><circle cx="266.31" cy="599.68" r="1.20" fill="#F8766D" fill-opacity="0.82"/><line x1="271.35" y1="486.75" x2="271.35" y2="599.68" stroke="#00BA38" stroke-width="2.4" stroke-opacity="0.82" stroke-linecap="round"/><circle cx="271.35" cy="486.75" r="1.20" fill="#00BA38" fill-opacity="0.82"/><circle cx="271.35" cy="599.68" r="1.20" fill="#00BA38" fill-opacity="0.82"/><line x1="276.38" y1="490.53" x2="276.38" y2="600.34" stroke="#619CFF" stroke-width="2.4" stroke-opacity="0.82" stroke-linecap="round"/><circle cx="276.38" cy="490.53" r="1.20" fill="#619CFF" fill-opacity="0.82"/><circle cx="276.38" cy="600.34" r="1.20" fill="#619CFF" fill-opacity="0.82"/><path d="M276.38 539.84L282.38 545.84L276.38 551.84L270.38 545.84Z" fill="#619CFF" fill-opacity="0.8"/><path d="M271.35 537.17L277.35 543.17L271.35 549.17L265.35 543.17Z" fill="#00BA38" fill-opacity="0.8"/><path d="M266.31 538.73L272.31 544.73L266.31 550.73L260.31 544.73Z" fill="#F8766D" fill-opacity="0.8"/><line x1="295.94" y1="484.53" x2="295.94" y2="597.46" stroke="#F8766D" stroke-width="2.4" stroke-opacity="0.82" stroke-linecap="round"/><circle cx="295.94" cy="484.53" r="1.20" fill="#F8766D" fill-opacity="0.82"/><circle cx="295.94" cy="597.46" r="1.20" fill="#F8766D" fill-opacity="0.82"/><line x1="300.97" y1="483.42" x2="300.97" y2="597.01" stroke="#00BA38" stroke-width="2.4" stroke-opacity="0.82" stroke-linecap="round"/><circle cx="300.97" cy="483.42" r="1.20" fill="#00BA38" fill-opacity="0.82"/><circle cx="300.97" cy="597.01" r="1.20" fill="#00BA38" fill-opacity="0.82"/><line x1="306.01" y1="487.20" x2="306.01" y2="597.01" stroke="#619CFF" stroke-width="2.4" stroke-opacity="0.82" stroke-linecap="round"/><circle cx="306.01" cy="487.20" r="1.20" fill="#619CFF" fill-opacity="0.82"/><circle cx="306.01" cy="597.01" r="1.20" fill="#619CFF" fill-opacity="0.82"/><path d="M306.01 536.06L312.01 542.06L306.01 548.06L300.01 542.06Z" fill="#619CFF" fill-opacity="0.8"/><path d="M300.97 534.28L306.97 540.28L300.97 546.28L294.97 540.28Z" fill="#00BA38" fill-opacity="0.8"/><path d="M295.94 535.84L301.94 541.84L295.94 547.84L289.94 541.84Z" fill="#F8766D" fill-opacity="0.8"/><line x1="325.56" y1="483.87" x2="325.56" y2="593.24" stroke="#F8766D" stroke-width="2.4" stroke-opacity="0.82" stroke-linecap="round"/><circle cx="325.56" cy="483.87" r="1.20" fill="#F8766D" fill-opacity="0.82"/><circle cx="325.56" cy="593.24" r="1.20" fill="#F8766D" fill-opacity="0.82"/><line x1="330.60" y1="481.20" x2="330.60" y2="594.12" stroke="#00BA38" stroke-width="2.4" stroke-opacity="0.82" stroke-linecap="round"/><circle cx="330.60" cy="481.20" r="1.20" fill="#00BA38" fill-opacity="0.82"/><circle cx="330.60" cy="594.12" r="1.20" fill="#00BA38" fill-opacity="0.82"/><line x1="335.64" y1="483.87" x2="335.64" y2="593.68" stroke="#619CFF" stroke-width="2.4" stroke-opacity="0.82" stroke-linecap="round"/><circle cx="335.64" cy="483.87" r="1.20" fill="#619CFF" fill-opacity="0.82"/><circle cx="335.64" cy="593.68" r="1.20" fill="#619CFF" fill-opacity="0.82"/><path d="M335.64 532.73L341.64 538.73L335.64 544.73L329.64 538.73Z" fill="#619CFF" fill-opacity="0.8"/><path d="M330.60 531.40L336.60 537.40L330.60 543.40L324.60 537.40Z" fill="#00BA38" fill-opacity="0.8"/><path d="M325.56 533.17L331.56 539.17L325.56 545.17L319.56 539.17Z" fill="#F8766D" fill-opacity="0.8"/><line x1="355.19" y1="482.31" x2="355.19" y2="593.01" stroke="#F8766D" stroke-width="2.4" stroke-opacity="0.82" stroke-linecap="round"/><circle cx="355.19" cy="482.31" r="1.20" fill="#F8766D" fill-opacity="0.82"/><circle cx="355.19" cy="593.01" r="1.20" fill="#F8766D" fill-opacity="0.82"/><line x1="360.23" y1="478.32" x2="360.23" y2="591.90" stroke="#00BA38" stroke-width="2.4" stroke-opacity="0.82" stroke-linecap="round"/><circle cx="360.23" cy="478.32" r="1.20" fill="#00BA38" fill-opacity="0.82"/><circle cx="360.23" cy="591.90" r="1.20" fill="#00BA38" fill-opacity="0.82"/><line x1="365.27" y1="480.54" x2="365.27" y2="591.02" stroke="#619CFF" stroke-width="2.4" stroke-opacity="0.82" stroke-linecap="round"/><circle cx="365.27" cy="480.54" r="1.20" fill="#619CFF" fill-opacity="0.82"/><circle cx="365.27" cy="591.02" r="1.20" fill="#619CFF" fill-opacity="0.82"/><path d="M365.27 529.84L371.27 535.84L365.27 541.84L359.27 535.84Z" fill="#619CFF" fill-opacity="0.8"/><path d="M360.23 529.40L366.23 535.40L360.23 541.40L354.23 535.40Z" fill="#00BA38" fill-opacity="0.8"/><path d="M355.19 532.06L361.19 538.06L355.19 544.06L349.19 538.06Z" fill="#F8766D" fill-opacity="0.8"/><line x1="384.82" y1="476.54" x2="384.82" y2="588.80" stroke="#F8766D" stroke-width="2.4" stroke-opacity="0.82" stroke-linecap="round"/><circle cx="384.82" cy="476.54" r="1.20" fill="#F8766D" fill-opacity="0.82"/><circle cx="384.82" cy="588.80" r="1.20" fill="#F8766D" fill-opacity="0.82"/><line x1="389.86" y1="476.10" x2="389.86" y2="588.80" stroke="#00BA38" stroke-width="2.4" stroke-opacity="0.82" stroke-linecap="round"/><circle cx="389.86" cy="476.10" r="1.20" fill="#00BA38" fill-opacity="0.82"/><circle cx="389.86" cy="588.80" r="1.20" fill="#00BA38" fill-opacity="0.82"/><line x1="394.89" y1="477.65" x2="394.89" y2="587.46" stroke="#619CFF" stroke-width="2.4" stroke-opacity="0.82" stroke-linecap="round"/><circle cx="394.89" cy="477.65" r="1.20" fill="#619CFF" fill-opacity="0.82"/><circle cx="394.89" cy="587.46" r="1.20" fill="#619CFF" fill-opacity="0.82"/><path d="M394.89 526.51L400.89 532.51L394.89 538.51L388.89 532.51Z" fill="#619CFF" fill-opacity="0.8"/><path d="M389.86 526.51L395.86 532.51L389.86 538.51L383.86 532.51Z" fill="#00BA38" fill-opacity="0.8"/><path d="M384.82 526.96L390.82 532.96L384.82 538.96L378.82 532.96Z" fill="#F8766D" fill-opacity="0.8"/><line x1="414.45" y1="474.32" x2="414.45" y2="585.91" stroke="#F8766D" stroke-width="2.4" stroke-opacity="0.82" stroke-linecap="round"/><circle cx="414.45" cy="474.32" r="1.20" fill="#F8766D" fill-opacity="0.82"/><circle cx="414.45" cy="585.91" r="1.20" fill="#F8766D" fill-opacity="0.82"/><line x1="419.48" y1="473.21" x2="419.48" y2="586.35" stroke="#00BA38" stroke-width="2.4" stroke-opacity="0.82" stroke-linecap="round"/><circle cx="419.48" cy="473.21" r="1.20" fill="#00BA38" fill-opacity="0.82"/><circle cx="419.48" cy="586.35" r="1.20" fill="#00BA38" fill-opacity="0.82"/><line x1="424.52" y1="474.54" x2="424.52" y2="584.80" stroke="#619CFF" stroke-width="2.4" stroke-opacity="0.82" stroke-linecap="round"/><circle cx="424.52" cy="474.54" r="1.20" fill="#619CFF" fill-opacity="0.82"/><circle cx="424.52" cy="584.80" r="1.20" fill="#619CFF" fill-opacity="0.82"/><path d="M424.52 524.29L430.52 530.29L424.52 536.29L418.52 530.29Z" fill="#619CFF" fill-opacity="0.8"/><path d="M419.48 524.29L425.48 530.29L419.48 536.29L413.48 530.29Z" fill="#00BA38" fill-opacity="0.8"/><path d="M414.45 524.74L420.45 530.74L414.45 536.74L408.45 530.74Z" fill="#F8766D" fill-opacity="0.8"/><line x1="444.08" y1="473.88" x2="444.08" y2="587.02" stroke="#F8766D" stroke-width="2.4" stroke-opacity="0.82" stroke-linecap="round"/><circle cx="444.08" cy="473.88" r="1.20" fill="#F8766D" fill-opacity="0.82"/><circle cx="444.08" cy="587.02" r="1.20" fill="#F8766D" fill-opacity="0.82"/><line x1="449.11" y1="470.55" x2="449.11" y2="584.13" stroke="#00BA38" stroke-width="2.4" stroke-opacity="0.82" stroke-linecap="round"/><circle cx="449.11" cy="470.55" r="1.20" fill="#00BA38" fill-opacity="0.82"/><circle cx="449.11" cy="584.13" r="1.20" fill="#00BA38" fill-opacity="0.82"/><line x1="454.15" y1="471.21" x2="454.15" y2="581.47" stroke="#619CFF" stroke-width="2.4" stroke-opacity="0.82" stroke-linecap="round"/><circle cx="454.15" cy="471.21" r="1.20" fill="#619CFF" fill-opacity="0.82"/><circle cx="454.15" cy="581.47" r="1.20" fill="#619CFF" fill-opacity="0.82"/><path d="M454.15 520.52L460.15 526.52L454.15 532.52L448.15 526.52Z" fill="#619CFF" fill-opacity="0.8"/><path d="M449.11 521.63L455.11 527.63L449.11 533.63L443.11 527.63Z" fill="#00BA38" fill-opacity="0.8"/><path d="M444.08 524.96L450.08 530.96L444.08 536.96L438.08 530.96Z" fill="#F8766D" fill-opacity="0.8"/><line x1="473.70" y1="466.55" x2="473.70" y2="582.58" stroke="#F8766D" stroke-width="2.4" stroke-opacity="0.82" stroke-linecap="round"/><circle cx="473.70" cy="466.55" r="1.20" fill="#F8766D" fill-opacity="0.82"/><circle cx="473.70" cy="582.58" r="1.20" fill="#F8766D" fill-opacity="0.82"/><line x1="478.74" y1="468.33" x2="478.74" y2="581.47" stroke="#00BA38" stroke-width="2.4" stroke-opacity="0.82" stroke-linecap="round"/><circle cx="478.74" cy="468.33" r="1.20" fill="#00BA38" fill-opacity="0.82"/><circle cx="478.74" cy="581.47" r="1.20" fill="#00BA38" fill-opacity="0.82"/><line x1="483.78" y1="468.77" x2="483.78" y2="578.58" stroke="#619CFF" stroke-width="2.4" stroke-opacity="0.82" stroke-linecap="round"/><circle cx="483.78" cy="468.77" r="1.20" fill="#619CFF" fill-opacity="0.82"/><circle cx="483.78" cy="578.58" r="1.20" fill="#619CFF" fill-opacity="0.82"/><path d="M483.78 518.08L489.78 524.08L483.78 530.08L477.78 524.08Z" fill="#619CFF" fill-opacity="0.8"/><path d="M478.74 518.74L484.74 524.74L478.74 530.74L472.74 524.74Z" fill="#00BA38" fill-opacity="0.8"/><path d="M473.70 518.74L479.70 524.74L473.70 530.74L467.70 524.74Z" fill="#F8766D" fill-opacity="0.8"/><line x1="503.33" y1="465.00" x2="503.33" y2="579.92" stroke="#F8766D" stroke-width="2.4" stroke-opacity="0.82" stroke-linecap="round"/><circle cx="503.33" cy="465.00" r="1.20" fill="#F8766D" fill-opacity="0.82"/><circle cx="503.33" cy="579.92" r="1.20" fill="#F8766D" fill-opacity="0.82"/><line x1="508.37" y1="465.44" x2="508.37" y2="579.25" stroke="#00BA38" stroke-width="2.4" stroke-opacity="0.82" stroke-linecap="round"/><circle cx="508.37" cy="465.44" r="1.20" fill="#00BA38" fill-opacity="0.82"/><circle cx="508.37" cy="579.25" r="1.20" fill="#00BA38" fill-opacity="0.82"/><line x1="513.40" y1="465.44" x2="513.40" y2="575.25" stroke="#619CFF" stroke-width="2.4" stroke-opacity="0.82" stroke-linecap="round"/><circle cx="513.40" cy="465.44" r="1.20" fill="#619CFF" fill-opacity="0.82"/><circle cx="513.40" cy="575.25" r="1.20" fill="#619CFF" fill-opacity="0.82"/><path d="M513.40 514.30L519.40 520.30L513.40 526.30L507.40 520.30Z" fill="#619CFF" fill-opacity="0.8"/><path d="M508.37 516.52L514.37 522.52L508.37 528.52L502.37 522.52Z" fill="#00BA38" fill-opacity="0.8"/><path d="M503.33 516.52L509.33 522.52L503.33 528.52L497.33 522.52Z" fill="#F8766D" fill-opacity="0.8"/><line x1="532.96" y1="462.78" x2="532.96" y2="575.92" stroke="#F8766D" stroke-width="2.4" stroke-opacity="0.82" stroke-linecap="round"/><circle cx="532.96" cy="462.78" r="1.20" fill="#F8766D" fill-opacity="0.82"/><circle cx="532.96" cy="575.92" r="1.20" fill="#F8766D" fill-opacity="0.82"/><line x1="537.99" y1="462.78" x2="537.99" y2="575.92" stroke="#00BA38" stroke-width="2.4" stroke-opacity="0.82" stroke-linecap="round"/><circle cx="537.99" cy="462.78" r="1.20" fill="#00BA38" fill-opacity="0.82"/><circle cx="537.99" cy="575.92" r="1.20" fill="#00BA38" fill-opacity="0.82"/><line x1="543.03" y1="462.11" x2="543.03" y2="572.14" stroke="#619CFF" stroke-width="2.4" stroke-opacity="0.82" stroke-linecap="round"/><circle cx="543.03" cy="462.11" r="1.20" fill="#619CFF" fill-opacity="0.82"/><circle cx="543.03" cy="572.14" r="1.20" fill="#619CFF" fill-opacity="0.82"/><path d="M543.03 511.42L549.03 517.42L543.03 523.42L537.03 517.42Z" fill="#619CFF" fill-opacity="0.8"/><path d="M537.99 513.64L543.99 519.64L537.99 525.64L531.99 519.64Z" fill="#00BA38" fill-opacity="0.8"/><path d="M532.96 513.64L538.96 519.64L532.96 525.64L526.96 519.64Z" fill="#F8766D" fill-opacity="0.8"/><line x1="562.59" y1="457.67" x2="562.59" y2="571.92" stroke="#F8766D" stroke-width="2.4" stroke-opacity="0.82" stroke-linecap="round"/><circle cx="562.59" cy="457.67" r="1.20" fill="#F8766D" fill-opacity="0.82"/><circle cx="562.59" cy="571.92" r="1.20" fill="#F8766D" fill-opacity="0.82"/><line x1="567.62" y1="459.45" x2="567.62" y2="573.03" stroke="#00BA38" stroke-width="2.4" stroke-opacity="0.82" stroke-linecap="round"/><circle cx="567.62" cy="459.45" r="1.20" fill="#00BA38" fill-opacity="0.82"/><circle cx="567.62" cy="573.03" r="1.20" fill="#00BA38" fill-opacity="0.82"/><line x1="572.66" y1="458.34" x2="572.66" y2="568.59" stroke="#619CFF" stroke-width="2.4" stroke-opacity="0.82" stroke-linecap="round"/><circle cx="572.66" cy="458.34" r="1.20" fill="#619CFF" fill-opacity="0.82"/><circle cx="572.66" cy="568.59" r="1.20" fill="#619CFF" fill-opacity="0.82"/><path d="M572.66 507.64L578.66 513.64L572.66 519.64L566.66 513.64Z" fill="#619CFF" fill-opacity="0.8"/><path d="M567.62 510.97L573.62 516.97L567.62 522.97L561.62 516.97Z" fill="#00BA38" fill-opacity="0.8"/><path d="M562.59 509.20L568.59 515.20L562.59 521.20L556.59 515.20Z" fill="#F8766D" fill-opacity="0.8"/><line x1="592.21" y1="454.56" x2="592.21" y2="567.04" stroke="#F8766D" stroke-width="2.4" stroke-opacity="0.82" stroke-linecap="round"/><circle cx="592.21" cy="454.56" r="1.20" fill="#F8766D" fill-opacity="0.82"/><circle cx="592.21" cy="567.04" r="1.20" fill="#F8766D" fill-opacity="0.82"/><line x1="597.25" y1="456.12" x2="597.25" y2="568.81" stroke="#00BA38" stroke-width="2.4" stroke-opacity="0.82" stroke-linecap="round"/><circle cx="597.25" cy="456.12" r="1.20" fill="#00BA38" fill-opacity="0.82"/><circle cx="597.25" cy="568.81" r="1.20" fill="#00BA38" fill-opacity="0.82"/><line x1="602.29" y1="453.89" x2="602.29" y2="563.71" stroke="#619CFF" stroke-width="2.4" stroke-opacity="0.82" stroke-linecap="round"/><circle cx="602.29" cy="453.89" r="1.20" fill="#619CFF" fill-opacity="0.82"/><circle cx="602.29" cy="563.71" r="1.20" fill="#619CFF" fill-opacity="0.82"/><path d="M602.29 502.76L608.29 508.76L602.29 514.76L596.29 508.76Z" fill="#619CFF" fill-opacity="0.8"/><path d="M597.25 506.98L603.25 512.98L597.25 518.98L591.25 512.98Z" fill="#00BA38" fill-opacity="0.8"/><path d="M592.21 504.98L598.21 510.98L592.21 516.98L586.21 510.98Z" fill="#F8766D" fill-opacity="0.8"/><line x1="621.84" y1="447.68" x2="621.84" y2="562.60" stroke="#F8766D" stroke-width="2.4" stroke-opacity="0.82" stroke-linecap="round"/><circle cx="621.84" cy="447.68" r="1.20" fill="#F8766D" fill-opacity="0.82"/><circle cx="621.84" cy="562.60" r="1.20" fill="#F8766D" fill-opacity="0.82"/><line x1="626.88" y1="451.67" x2="626.88" y2="564.37" stroke="#00BA38" stroke-width="2.4" stroke-opacity="0.82" stroke-linecap="round"/><circle cx="626.88" cy="451.67" r="1.20" fill="#00BA38" fill-opacity="0.82"/><circle cx="626.88" cy="564.37" r="1.20" fill="#00BA38" fill-opacity="0.82"/><line x1="631.91" y1="448.79" x2="631.91" y2="558.60" stroke="#619CFF" stroke-width="2.4" stroke-opacity="0.82" stroke-linecap="round"/><circle cx="631.91" cy="448.79" r="1.20" fill="#619CFF" fill-opacity="0.82"/><circle cx="631.91" cy="558.60" r="1.20" fill="#619CFF" fill-opacity="0.82"/><path d="M631.91 498.09L637.91 504.09L631.91 510.09L625.91 504.09Z" fill="#619CFF" fill-opacity="0.8"/><path d="M626.88 502.53L632.88 508.53L626.88 514.53L620.88 508.53Z" fill="#00BA38" fill-opacity="0.8"/><path d="M621.84 499.43L627.84 505.43L621.84 511.43L615.84 505.43Z" fill="#F8766D" fill-opacity="0.8"/><line x1="651.47" y1="444.35" x2="651.47" y2="558.60" stroke="#F8766D" stroke-width="2.4" stroke-opacity="0.82" stroke-linecap="round"/><circle cx="651.47" cy="444.35" r="1.20" fill="#F8766D" fill-opacity="0.82"/><circle cx="651.47" cy="558.60" r="1.20" fill="#F8766D" fill-opacity="0.82"/><line x1="656.50" y1="445.68" x2="656.50" y2="558.82" stroke="#00BA38" stroke-width="2.4" stroke-opacity="0.82" stroke-linecap="round"/><circle cx="656.50" cy="445.68" r="1.20" fill="#00BA38" fill-opacity="0.82"/><circle cx="656.50" cy="558.82" r="1.20" fill="#00BA38" fill-opacity="0.82"/><line x1="661.54" y1="441.68" x2="661.54" y2="551.50" stroke="#619CFF" stroke-width="2.4" stroke-opacity="0.82" stroke-linecap="round"/><circle cx="661.54" cy="441.68" r="1.20" fill="#619CFF" fill-opacity="0.82"/><circle cx="661.54" cy="551.50" r="1.20" fill="#619CFF" fill-opacity="0.82"/><path d="M661.54 490.99L667.54 496.99L661.54 502.99L655.54 496.99Z" fill="#619CFF" fill-opacity="0.8"/><path d="M656.50 496.54L662.50 502.54L656.50 508.54L650.50 502.54Z" fill="#00BA38" fill-opacity="0.8"/><path d="M651.47 495.43L657.47 501.43L651.47 507.43L645.47 501.43Z" fill="#F8766D" fill-opacity="0.8"/><line x1="681.10" y1="429.47" x2="681.10" y2="545.28" stroke="#F8766D" stroke-width="2.4" stroke-opacity="0.82" stroke-linecap="round"/><circle cx="681.10" cy="429.47" r="1.20" fill="#F8766D" fill-opacity="0.82"/><circle cx="681.10" cy="545.28" r="1.20" fill="#F8766D" fill-opacity="0.82"/><line x1="686.13" y1="433.25" x2="686.13" y2="547.06" stroke="#00BA38" stroke-width="2.4" stroke-opacity="0.82" stroke-linecap="round"/><circle cx="686.13" cy="433.25" r="1.20" fill="#00BA38" fill-opacity="0.82"/><circle cx="686.13" cy="547.06" r="1.20" fill="#00BA38" fill-opacity="0.82"/><line x1="691.17" y1="426.59" x2="691.17" y2="537.73" stroke="#619CFF" stroke-width="2.4" stroke-opacity="0.82" stroke-linecap="round"/><circle cx="691.17" cy="426.59" r="1.20" fill="#619CFF" fill-opacity="0.82"/><circle cx="691.17" cy="537.73" r="1.20" fill="#619CFF" fill-opacity="0.82"/><path d="M691.17 476.56L697.17 482.56L691.17 488.56L685.17 482.56Z" fill="#619CFF" fill-opacity="0.8"/><path d="M686.13 484.77L692.13 490.77L686.13 496.77L680.13 490.77Z" fill="#00BA38" fill-opacity="0.8"/><path d="M681.10 481.66L687.10 487.66L681.10 493.66L675.10 487.66Z" fill="#F8766D" fill-opacity="0.8"/><path d="M87.00 415.60V646.60H722.40" fill="none" stroke="#000" stroke-width="2.2" stroke-linejoin="miter" stroke-linecap="square"/><line x1="79.80" y1="590.20" x2="87.00" y2="590.20" stroke="#000" stroke-width="2.2" stroke-linecap="butt"/><path transform="translate(33.77 599.40) scale(0.0240 -0.0240)" d="M354 0L262 0L262 496L100 496L100 565C200 572 250 605 272 702L354 702Z"/><text x="47.11" y="599.40" font-size="24.0">6</text><text x="60.46" y="599.40" font-size="24.0">0</text><line x1="79.80" y1="524.10" x2="87.00" y2="524.10" stroke="#000" stroke-width="2.2" stroke-linecap="butt"/><path transform="translate(33.77 533.30) scale(0.0240 -0.0240)" d="M354 0L262 0L262 496L100 496L100 565C200 572 250 605 272 702L354 702Z"/><text x="47.11" y="533.30" font-size="24.0">7</text><text x="60.46" y="533.30" font-size="24.0">0</text><line x1="79.80" y1="458.00" x2="87.00" y2="458.00" stroke="#000" stroke-width="2.2" stroke-linecap="butt"/><path transform="translate(33.77 467.20) scale(0.0240 -0.0240)" d="M354 0L262 0L262 496L100 496L100 565C200 572 250 605 272 702L354 702Z"/><text x="47.11" y="467.20" font-size="24.0">8</text><text x="60.46" y="467.20" font-size="24.0">0</text><line x1="93.28" y1="646.60" x2="93.28" y2="653.40" stroke="#000" stroke-width="2.2" stroke-linecap="butt"/><text x="86.61" y="676.40" font-size="24.0">0</text><line x1="241.42" y1="646.60" x2="241.42" y2="653.40" stroke="#000" stroke-width="2.2" stroke-linecap="butt"/><text x="234.75" y="676.40" font-size="24.0">5</text><line x1="389.56" y1="646.60" x2="389.56" y2="653.40" stroke="#000" stroke-width="2.2" stroke-linecap="butt"/><path transform="translate(376.21 676.40) scale(0.0240 -0.0240)" d="M354 0L262 0L262 496L100 496L100 565C200 572 250 605 272 702L354 702Z"/><text x="389.56" y="676.40" font-size="24.0">0</text><line x1="537.69" y1="646.60" x2="537.69" y2="653.40" stroke="#000" stroke-width="2.2" stroke-linecap="butt"/><path transform="translate(524.35 676.40) scale(0.0240 -0.0240)" d="M354 0L262 0L262 496L100 496L100 565C200 572 250 605 272 702L354 702Z"/><text x="537.69" y="676.40" font-size="24.0">5</text><line x1="685.83" y1="646.60" x2="685.83" y2="653.40" stroke="#000" stroke-width="2.2" stroke-linecap="butt"/><text x="672.49" y="676.40" font-size="24.0">2</text><text x="685.83" y="676.40" font-size="24.0">0</text><text x="404.20" y="708.10" font-size="28.2" text-anchor="middle">Quantile</text><text transform="translate(20.6 531.35) rotate(-90)" x="0" y="0" font-size="28.2" text-anchor="middle">Mean (SD)</text><text x="750.0" y="432.50" font-size="28.2">Method</text><line x1="752.9" y1="465.20" x2="777.1" y2="465.20" stroke="#F8766D" stroke-width="2.4" stroke-opacity="0.82"/><path d="M765.00 459.20L771.00 465.20L765.00 471.20L759.00 465.20Z" fill="#F8766D" fill-opacity="0.8"/><line x1="752.9" y1="529.90" x2="777.1" y2="529.90" stroke="#00BA38" stroke-width="2.4" stroke-opacity="0.82"/><path d="M765.00 523.90L771.00 529.90L765.00 535.90L759.00 529.90Z" fill="#00BA38" fill-opacity="0.8"/><line x1="752.9" y1="615.90" x2="777.1" y2="615.90" stroke="#619CFF" stroke-width="2.4" stroke-opacity="0.82"/><path d="M765.00 609.90L771.00 615.90L765.00 621.90L759.00 615.90Z" fill="#619CFF" fill-opacity="0.8"/><text x="794.4" y="473.40" font-size="24.0">Observed</text><text x="794.4" y="525.50" font-size="24.0">Estimated</text><text x="794.4" y="551.60" font-size="24.0">(Observed R2)</text><text x="794.4" y="598.80" font-size="24.0">Estimated</text><text x="794.4" y="624.50" font-size="24.0">(lassosum R2)</text></g>
<g><text x="73.0" y="765.6" font-size="32" font-weight="bold">BMI</text><line x1="105.61" y1="890.06" x2="105.61" y2="994.32" stroke="#F8766D" stroke-width="2.4" stroke-opacity="0.82" stroke-linecap="round"/><circle cx="105.61" cy="890.06" r="1.20" fill="#F8766D" fill-opacity="0.82"/><circle cx="105.61" cy="994.32" r="1.20" fill="#F8766D" fill-opacity="0.82"/><line x1="110.75" y1="881.18" x2="110.75" y2="1006.31" stroke="#00BA38" stroke-width="2.4" stroke-opacity="0.82" stroke-linecap="round"/><circle cx="110.75" cy="881.18" r="1.20" fill="#00BA38" fill-opacity="0.82"/><circle cx="110.75" cy="1006.31" r="1.20" fill="#00BA38" fill-opacity="0.82"/><line x1="115.89" y1="879.40" x2="115.89" y2="1005.20" stroke="#619CFF" stroke-width="2.4" stroke-opacity="0.82" stroke-linecap="round"/><circle cx="115.89" cy="879.40" r="1.20" fill="#619CFF" fill-opacity="0.82"/><circle cx="115.89" cy="1005.20" r="1.20" fill="#619CFF" fill-opacity="0.82"/><path d="M115.89 936.92L121.89 942.92L115.89 948.92L109.89 942.92Z" fill="#619CFF" fill-opacity="0.8"/><path d="M110.75 938.25L116.75 944.25L110.75 950.25L104.75 944.25Z" fill="#00BA38" fill-opacity="0.8"/><path d="M105.61 936.92L111.61 942.92L105.61 948.92L99.61 942.92Z" fill="#F8766D" fill-opacity="0.8"/><line x1="135.85" y1="877.85" x2="135.85" y2="988.55" stroke="#F8766D" stroke-width="2.4" stroke-opacity="0.82" stroke-linecap="round"/><circle cx="135.85" cy="877.85" r="1.20" fill="#F8766D" fill-opacity="0.82"/><circle cx="135.85" cy="988.55" r="1.20" fill="#F8766D" fill-opacity="0.82"/><line x1="141.00" y1="870.08" x2="141.00" y2="994.76" stroke="#00BA38" stroke-width="2.4" stroke-opacity="0.82" stroke-linecap="round"/><circle cx="141.00" cy="870.08" r="1.20" fill="#00BA38" fill-opacity="0.82"/><circle cx="141.00" cy="994.76" r="1.20" fill="#00BA38" fill-opacity="0.82"/><line x1="146.14" y1="868.97" x2="146.14" y2="993.65" stroke="#619CFF" stroke-width="2.4" stroke-opacity="0.82" stroke-linecap="round"/><circle cx="146.14" cy="868.97" r="1.20" fill="#619CFF" fill-opacity="0.82"/><circle cx="146.14" cy="993.65" r="1.20" fill="#619CFF" fill-opacity="0.82"/><path d="M146.14 925.82L152.14 931.82L146.14 937.82L140.14 931.82Z" fill="#619CFF" fill-opacity="0.8"/><path d="M141.00 926.93L147.00 932.93L141.00 938.93L135.00 932.93Z" fill="#00BA38" fill-opacity="0.8"/><path d="M135.85 927.60L141.85 933.60L135.85 939.60L129.85 933.60Z" fill="#F8766D" fill-opacity="0.8"/><line x1="166.10" y1="873.85" x2="166.10" y2="984.77" stroke="#F8766D" stroke-width="2.4" stroke-opacity="0.82" stroke-linecap="round"/><circle cx="166.10" cy="873.85" r="1.20" fill="#F8766D" fill-opacity="0.82"/><circle cx="166.10" cy="984.77" r="1.20" fill="#F8766D" fill-opacity="0.82"/><line x1="171.24" y1="864.53" x2="171.24" y2="989.21" stroke="#00BA38" stroke-width="2.4" stroke-opacity="0.82" stroke-linecap="round"/><circle cx="171.24" cy="864.53" r="1.20" fill="#00BA38" fill-opacity="0.82"/><circle cx="171.24" cy="989.21" r="1.20" fill="#00BA38" fill-opacity="0.82"/><line x1="176.38" y1="863.42" x2="176.38" y2="988.55" stroke="#619CFF" stroke-width="2.4" stroke-opacity="0.82" stroke-linecap="round"/><circle cx="176.38" cy="863.42" r="1.20" fill="#619CFF" fill-opacity="0.82"/><circle cx="176.38" cy="988.55" r="1.20" fill="#619CFF" fill-opacity="0.82"/><path d="M176.38 920.49L182.38 926.49L176.38 932.49L170.38 926.49Z" fill="#619CFF" fill-opacity="0.8"/><path d="M171.24 920.94L177.24 926.94L171.24 932.94L165.24 926.94Z" fill="#00BA38" fill-opacity="0.8"/><path d="M166.10 923.60L172.10 929.60L166.10 935.60L160.10 929.60Z" fill="#F8766D" fill-opacity="0.8"/><line x1="196.34" y1="864.53" x2="196.34" y2="981.89" stroke="#F8766D" stroke-width="2.4" stroke-opacity="0.82" stroke-linecap="round"/><circle cx="196.34" cy="864.53" r="1.20" fill="#F8766D" fill-opacity="0.82"/><circle cx="196.34" cy="981.89" r="1.20" fill="#F8766D" fill-opacity="0.82"/><line x1="201.48" y1="860.53" x2="201.48" y2="985.22" stroke="#00BA38" stroke-width="2.4" stroke-opacity="0.82" stroke-linecap="round"/><circle cx="201.48" cy="860.53" r="1.20" fill="#00BA38" fill-opacity="0.82"/><circle cx="201.48" cy="985.22" r="1.20" fill="#00BA38" fill-opacity="0.82"/><line x1="206.62" y1="859.42" x2="206.62" y2="984.77" stroke="#619CFF" stroke-width="2.4" stroke-opacity="0.82" stroke-linecap="round"/><circle cx="206.62" cy="859.42" r="1.20" fill="#619CFF" fill-opacity="0.82"/><circle cx="206.62" cy="984.77" r="1.20" fill="#619CFF" fill-opacity="0.82"/><path d="M206.62 916.50L212.62 922.50L206.62 928.50L200.62 922.50Z" fill="#619CFF" fill-opacity="0.8"/><path d="M201.48 917.61L207.48 923.61L201.48 929.61L195.48 923.61Z" fill="#00BA38" fill-opacity="0.8"/><path d="M196.34 917.61L202.34 923.61L196.34 929.61L190.34 923.61Z" fill="#F8766D" fill-opacity="0.8"/><line x1="226.58" y1="857.64" x2="226.58" y2="978.78" stroke="#F8766D" stroke-width="2.4" stroke-opacity="0.82" stroke-linecap="round"/><circle cx="226.58" cy="857.64" r="1.20" fill="#F8766D" fill-opacity="0.82"/><circle cx="226.58" cy="978.78" r="1.20" fill="#F8766D" fill-opacity="0.82"/><line x1="231.72" y1="857.20" x2="231.72" y2="981.89" stroke="#00BA38" stroke-width="2.4" stroke-opacity="0.82" stroke-linecap="round"/><circle cx="231.72" cy="857.20" r="1.20" fill="#00BA38" fill-opacity="0.82"/><circle cx="231.72" cy="981.89" r="1.20" fill="#00BA38" fill-opacity="0.82"/><line x1="236.86" y1="856.53" x2="236.86" y2="981.44" stroke="#619CFF" stroke-width="2.4" stroke-opacity="0.82" stroke-linecap="round"/><circle cx="236.86" cy="856.53" r="1.20" fill="#619CFF" fill-opacity="0.82"/><circle cx="236.86" cy="981.44" r="1.20" fill="#619CFF" fill-opacity="0.82"/><path d="M236.86 913.17L242.86 919.17L236.86 925.17L230.86 919.17Z" fill="#619CFF" fill-opacity="0.8"/><path d="M231.72 913.83L237.72 919.83L231.72 925.83L225.72 919.83Z" fill="#00BA38" fill-opacity="0.8"/><path d="M226.58 913.17L232.58 919.17L226.58 925.17L220.58 919.17Z" fill="#F8766D" fill-opacity="0.8"/><line x1="256.82" y1="857.86" x2="256.82" y2="975.89" stroke="#F8766D" stroke-width="2.4" stroke-opacity="0.82" stroke-linecap="round"/><circle cx="256.82" cy="857.86" r="1.20" fill="#F8766D" fill-opacity="0.82"/><circle cx="256.82" cy="975.89" r="1.20" fill="#F8766D" fill-opacity="0.82"/><line x1="261.96" y1="854.31" x2="261.96" y2="978.78" stroke="#00BA38" stroke-width="2.4" stroke-opacity="0.82" stroke-linecap="round"/><circle cx="261.96" cy="854.31" r="1.20" fill="#00BA38" fill-opacity="0.82"/><circle cx="261.96" cy="978.78" r="1.20" fill="#00BA38" fill-opacity="0.82"/><line x1="267.10" y1="853.42" x2="267.10" y2="978.56" stroke="#619CFF" stroke-width="2.4" stroke-opacity="0.82" stroke-linecap="round"/><circle cx="267.10" cy="853.42" r="1.20" fill="#619CFF" fill-opacity="0.82"/><circle cx="267.10" cy="978.56" r="1.20" fill="#619CFF" fill-opacity="0.82"/><path d="M267.10 910.28L273.10 916.28L267.10 922.28L261.10 916.28Z" fill="#619CFF" fill-opacity="0.8"/><path d="M261.96 910.95L267.96 916.95L261.96 922.95L255.96 916.95Z" fill="#00BA38" fill-opacity="0.8"/><path d="M256.82 911.61L262.82 917.61L256.82 923.61L250.82 917.61Z" fill="#F8766D" fill-opacity="0.8"/><line x1="287.06" y1="852.09" x2="287.06" y2="974.34" stroke="#F8766D" stroke-width="2.4" stroke-opacity="0.82" stroke-linecap="round"/><circle cx="287.06" cy="852.09" r="1.20" fill="#F8766D" fill-opacity="0.82"/><circle cx="287.06" cy="974.34" r="1.20" fill="#F8766D" fill-opacity="0.82"/><line x1="292.21" y1="852.09" x2="292.21" y2="976.34" stroke="#00BA38" stroke-width="2.4" stroke-opacity="0.82" stroke-linecap="round"/><circle cx="292.21" cy="852.09" r="1.20" fill="#00BA38" fill-opacity="0.82"/><circle cx="292.21" cy="976.34" r="1.20" fill="#00BA38" fill-opacity="0.82"/><line x1="297.35" y1="851.20" x2="297.35" y2="975.89" stroke="#619CFF" stroke-width="2.4" stroke-opacity="0.82" stroke-linecap="round"/><circle cx="297.35" cy="851.20" r="1.20" fill="#619CFF" fill-opacity="0.82"/><circle cx="297.35" cy="975.89" r="1.20" fill="#619CFF" fill-opacity="0.82"/><path d="M297.35 907.61L303.35 913.61L297.35 919.61L291.35 913.61Z" fill="#619CFF" fill-opacity="0.8"/><path d="M292.21 908.73L298.21 914.73L292.21 920.73L286.21 914.73Z" fill="#00BA38" fill-opacity="0.8"/><path d="M287.06 907.61L293.06 913.61L287.06 919.61L281.06 913.61Z" fill="#F8766D" fill-opacity="0.8"/><line x1="317.31" y1="852.09" x2="317.31" y2="972.12" stroke="#F8766D" stroke-width="2.4" stroke-opacity="0.82" stroke-linecap="round"/><circle cx="317.31" cy="852.09" r="1.20" fill="#F8766D" fill-opacity="0.82"/><circle cx="317.31" cy="972.12" r="1.20" fill="#F8766D" fill-opacity="0.82"/><line x1="322.45" y1="849.43" x2="322.45" y2="974.12" stroke="#00BA38" stroke-width="2.4" stroke-opacity="0.82" stroke-linecap="round"/><circle cx="322.45" cy="849.43" r="1.20" fill="#00BA38" fill-opacity="0.82"/><circle cx="322.45" cy="974.12" r="1.20" fill="#00BA38" fill-opacity="0.82"/><line x1="327.59" y1="848.76" x2="327.59" y2="973.67" stroke="#619CFF" stroke-width="2.4" stroke-opacity="0.82" stroke-linecap="round"/><circle cx="327.59" cy="848.76" r="1.20" fill="#619CFF" fill-opacity="0.82"/><circle cx="327.59" cy="973.67" r="1.20" fill="#619CFF" fill-opacity="0.82"/><path d="M327.59 905.39L333.59 911.39L327.59 917.39L321.59 911.39Z" fill="#619CFF" fill-opacity="0.8"/><path d="M322.45 905.84L328.45 911.84L322.45 917.84L316.45 911.84Z" fill="#00BA38" fill-opacity="0.8"/><path d="M317.31 906.50L323.31 912.50L317.31 918.50L311.31 912.50Z" fill="#F8766D" fill-opacity="0.8"/><line x1="347.55" y1="847.87" x2="347.55" y2="970.34" stroke="#F8766D" stroke-width="2.4" stroke-opacity="0.82" stroke-linecap="round"/><circle cx="347.55" cy="847.87" r="1.20" fill="#F8766D" fill-opacity="0.82"/><circle cx="347.55" cy="970.34" r="1.20" fill="#F8766D" fill-opacity="0.82"/><line x1="352.69" y1="846.76" x2="352.69" y2="971.45" stroke="#00BA38" stroke-width="2.4" stroke-opacity="0.82" stroke-linecap="round"/><circle cx="352.69" cy="846.76" r="1.20" fill="#00BA38" fill-opacity="0.82"/><circle cx="352.69" cy="971.45" r="1.20" fill="#00BA38" fill-opacity="0.82"/><line x1="357.83" y1="846.54" x2="357.83" y2="971.45" stroke="#619CFF" stroke-width="2.4" stroke-opacity="0.82" stroke-linecap="round"/><circle cx="357.83" cy="846.54" r="1.20" fill="#619CFF" fill-opacity="0.82"/><circle cx="357.83" cy="971.45" r="1.20" fill="#619CFF" fill-opacity="0.82"/><path d="M357.83 903.17L363.83 909.17L357.83 915.17L351.83 909.17Z" fill="#619CFF" fill-opacity="0.8"/><path d="M352.69 903.17L358.69 909.17L352.69 915.17L346.69 909.17Z" fill="#00BA38" fill-opacity="0.8"/><path d="M347.55 903.62L353.55 909.62L347.55 915.62L341.55 909.62Z" fill="#F8766D" fill-opacity="0.8"/><line x1="377.79" y1="844.99" x2="377.79" y2="968.12" stroke="#F8766D" stroke-width="2.4" stroke-opacity="0.82" stroke-linecap="round"/><circle cx="377.79" cy="844.99" r="1.20" fill="#F8766D" fill-opacity="0.82"/><circle cx="377.79" cy="968.12" r="1.20" fill="#F8766D" fill-opacity="0.82"/><line x1="382.93" y1="844.54" x2="382.93" y2="969.23" stroke="#00BA38" stroke-width="2.4" stroke-opacity="0.82" stroke-linecap="round"/><circle cx="382.93" cy="844.54" r="1.20" fill="#00BA38" fill-opacity="0.82"/><circle cx="382.93" cy="969.23" r="1.20" fill="#00BA38" fill-opacity="0.82"/><line x1="388.07" y1="844.32" x2="388.07" y2="969.23" stroke="#619CFF" stroke-width="2.4" stroke-opacity="0.82" stroke-linecap="round"/><circle cx="388.07" cy="844.32" r="1.20" fill="#619CFF" fill-opacity="0.82"/><circle cx="388.07" cy="969.23" r="1.20" fill="#619CFF" fill-opacity="0.82"/><path d="M388.07 900.95L394.07 906.95L388.07 912.95L382.07 906.95Z" fill="#619CFF" fill-opacity="0.8"/><path d="M382.93 900.95L388.93 906.95L382.93 912.95L376.93 906.95Z" fill="#00BA38" fill-opacity="0.8"/><path d="M377.79 900.95L383.79 906.95L377.79 912.95L371.79 906.95Z" fill="#F8766D" fill-opacity="0.8"/><line x1="408.03" y1="840.99" x2="408.03" y2="967.68" stroke="#F8766D" stroke-width="2.4" stroke-opacity="0.82" stroke-linecap="round"/><circle cx="408.03" cy="840.99" r="1.20" fill="#F8766D" fill-opacity="0.82"/><circle cx="408.03" cy="967.68" r="1.20" fill="#F8766D" fill-opacity="0.82"/><line x1="413.17" y1="842.10" x2="413.17" y2="967.01" stroke="#00BA38" stroke-width="2.4" stroke-opacity="0.82" stroke-linecap="round"/><circle cx="413.17" cy="842.10" r="1.20" fill="#00BA38" fill-opacity="0.82"/><circle cx="413.17" cy="967.01" r="1.20" fill="#00BA38" fill-opacity="0.82"/><line x1="418.32" y1="841.66" x2="418.32" y2="967.01" stroke="#619CFF" stroke-width="2.4" stroke-opacity="0.82" stroke-linecap="round"/><circle cx="418.32" cy="841.66" r="1.20" fill="#619CFF" fill-opacity="0.82"/><circle cx="418.32" cy="967.01" r="1.20" fill="#619CFF" fill-opacity="0.82"/><path d="M418.32 898.73L424.32 904.73L418.32 910.73L412.32 904.73Z" fill="#619CFF" fill-opacity="0.8"/><path d="M413.17 898.73L419.17 904.73L413.17 910.73L407.17 904.73Z" fill="#00BA38" fill-opacity="0.8"/><path d="M408.03 899.18L414.03 905.18L408.03 911.18L402.03 905.18Z" fill="#F8766D" fill-opacity="0.8"/><line x1="438.28" y1="838.77" x2="438.28" y2="966.57" stroke="#F8766D" stroke-width="2.4" stroke-opacity="0.82" stroke-linecap="round"/><circle cx="438.28" cy="838.77" r="1.20" fill="#F8766D" fill-opacity="0.82"/><circle cx="438.28" cy="966.57" r="1.20" fill="#F8766D" fill-opacity="0.82"/><line x1="443.42" y1="839.88" x2="443.42" y2="964.12" stroke="#00BA38" stroke-width="2.4" stroke-opacity="0.82" stroke-linecap="round"/><circle cx="443.42" cy="839.88" r="1.20" fill="#00BA38" fill-opacity="0.82"/><circle cx="443.42" cy="964.12" r="1.20" fill="#00BA38" fill-opacity="0.82"/><line x1="448.56" y1="839.88" x2="448.56" y2="964.35" stroke="#619CFF" stroke-width="2.4" stroke-opacity="0.82" stroke-linecap="round"/><circle cx="448.56" cy="839.88" r="1.20" fill="#619CFF" fill-opacity="0.82"/><circle cx="448.56" cy="964.35" r="1.20" fill="#619CFF" fill-opacity="0.82"/><path d="M448.56 896.51L454.56 902.51L448.56 908.51L442.56 902.51Z" fill="#619CFF" fill-opacity="0.8"/><path d="M443.42 896.51L449.42 902.51L443.42 908.51L437.42 902.51Z" fill="#00BA38" fill-opacity="0.8"/><path d="M438.28 896.96L444.28 902.96L438.28 908.96L432.28 902.96Z" fill="#F8766D" fill-opacity="0.8"/><line x1="468.52" y1="834.33" x2="468.52" y2="963.24" stroke="#F8766D" stroke-width="2.4" stroke-opacity="0.82" stroke-linecap="round"/><circle cx="468.52" cy="834.33" r="1.20" fill="#F8766D" fill-opacity="0.82"/><circle cx="468.52" cy="963.24" r="1.20" fill="#F8766D" fill-opacity="0.82"/><line x1="473.66" y1="837.66" x2="473.66" y2="962.13" stroke="#00BA38" stroke-width="2.4" stroke-opacity="0.82" stroke-linecap="round"/><circle cx="473.66" cy="837.66" r="1.20" fill="#00BA38" fill-opacity="0.82"/><circle cx="473.66" cy="962.13" r="1.20" fill="#00BA38" fill-opacity="0.82"/><line x1="478.80" y1="837.66" x2="478.80" y2="962.13" stroke="#619CFF" stroke-width="2.4" stroke-opacity="0.82" stroke-linecap="round"/><circle cx="478.80" cy="837.66" r="1.20" fill="#619CFF" fill-opacity="0.82"/><circle cx="478.80" cy="962.13" r="1.20" fill="#619CFF" fill-opacity="0.82"/><path d="M478.80 894.29L484.80 900.29L478.80 906.29L472.80 900.29Z" fill="#619CFF" fill-opacity="0.8"/><path d="M473.66 894.29L479.66 900.29L473.66 906.29L467.66 900.29Z" fill="#00BA38" fill-opacity="0.8"/><path d="M468.52 893.85L474.52 899.85L468.52 905.85L462.52 899.85Z" fill="#F8766D" fill-opacity="0.8"/><line x1="498.76" y1="832.78" x2="498.76" y2="958.13" stroke="#F8766D" stroke-width="2.4" stroke-opacity="0.82" stroke-linecap="round"/><circle cx="498.76" cy="832.78" r="1.20" fill="#F8766D" fill-opacity="0.82"/><circle cx="498.76" cy="958.13" r="1.20" fill="#F8766D" fill-opacity="0.82"/><line x1="503.90" y1="835.00" x2="503.90" y2="959.24" stroke="#00BA38" stroke-width="2.4" stroke-opacity="0.82" stroke-linecap="round"/><circle cx="503.90" cy="835.00" r="1.20" fill="#00BA38" fill-opacity="0.82"/><circle cx="503.90" cy="959.24" r="1.20" fill="#00BA38" fill-opacity="0.82"/><line x1="509.04" y1="835.00" x2="509.04" y2="959.91" stroke="#619CFF" stroke-width="2.4" stroke-opacity="0.82" stroke-linecap="round"/><circle cx="509.04" cy="835.00" r="1.20" fill="#619CFF" fill-opacity="0.82"/><circle cx="509.04" cy="959.91" r="1.20" fill="#619CFF" fill-opacity="0.82"/><path d="M509.04 891.63L515.04 897.63L509.04 903.63L503.04 897.63Z" fill="#619CFF" fill-opacity="0.8"/><path d="M503.90 891.63L509.90 897.63L503.90 903.63L497.90 897.63Z" fill="#00BA38" fill-opacity="0.8"/><path d="M498.76 889.85L504.76 895.85L498.76 901.85L492.76 895.85Z" fill="#F8766D" fill-opacity="0.8"/><line x1="529.00" y1="827.67" x2="529.00" y2="959.68" stroke="#F8766D" stroke-width="2.4" stroke-opacity="0.82" stroke-linecap="round"/><circle cx="529.00" cy="827.67" r="1.20" fill="#F8766D" fill-opacity="0.82"/><circle cx="529.00" cy="959.68" r="1.20" fill="#F8766D" fill-opacity="0.82"/><line x1="534.14" y1="832.33" x2="534.14" y2="957.02" stroke="#00BA38" stroke-width="2.4" stroke-opacity="0.82" stroke-linecap="round"/><circle cx="534.14" cy="832.33" r="1.20" fill="#00BA38" fill-opacity="0.82"/><circle cx="534.14" cy="957.02" r="1.20" fill="#00BA38" fill-opacity="0.82"/><line x1="539.28" y1="832.33" x2="539.28" y2="957.46" stroke="#619CFF" stroke-width="2.4" stroke-opacity="0.82" stroke-linecap="round"/><circle cx="539.28" cy="832.33" r="1.20" fill="#619CFF" fill-opacity="0.82"/><circle cx="539.28" cy="957.46" r="1.20" fill="#619CFF" fill-opacity="0.82"/><path d="M539.28 889.19L545.28 895.19L539.28 901.19L533.28 895.19Z" fill="#619CFF" fill-opacity="0.8"/><path d="M534.14 889.19L540.14 895.19L534.14 901.19L528.14 895.19Z" fill="#00BA38" fill-opacity="0.8"/><path d="M529.00 888.08L535.00 894.08L529.00 900.08L523.00 894.08Z" fill="#F8766D" fill-opacity="0.8"/><line x1="559.24" y1="827.67" x2="559.24" y2="957.02" stroke="#F8766D" stroke-width="2.4" stroke-opacity="0.82" stroke-linecap="round"/><circle cx="559.24" cy="827.67" r="1.20" fill="#F8766D" fill-opacity="0.82"/><circle cx="559.24" cy="957.02" r="1.20" fill="#F8766D" fill-opacity="0.82"/><line x1="564.38" y1="829.00" x2="564.38" y2="953.69" stroke="#00BA38" stroke-width="2.4" stroke-opacity="0.82" stroke-linecap="round"/><circle cx="564.38" cy="829.00" r="1.20" fill="#00BA38" fill-opacity="0.82"/><circle cx="564.38" cy="953.69" r="1.20" fill="#00BA38" fill-opacity="0.82"/><line x1="569.53" y1="829.45" x2="569.53" y2="954.80" stroke="#619CFF" stroke-width="2.4" stroke-opacity="0.82" stroke-linecap="round"/><circle cx="569.53" cy="829.45" r="1.20" fill="#619CFF" fill-opacity="0.82"/><circle cx="569.53" cy="954.80" r="1.20" fill="#619CFF" fill-opacity="0.82"/><path d="M569.53 886.52L575.53 892.52L569.53 898.52L563.53 892.52Z" fill="#619CFF" fill-opacity="0.8"/><path d="M564.38 885.86L570.38 891.86L564.38 897.86L558.38 891.86Z" fill="#00BA38" fill-opacity="0.8"/><path d="M559.24 886.97L565.24 892.97L559.24 898.97L553.24 892.97Z" fill="#F8766D" fill-opacity="0.8"/><line x1="589.49" y1="824.34" x2="589.49" y2="956.58" stroke="#F8766D" stroke-width="2.4" stroke-opacity="0.82" stroke-linecap="round"/><circle cx="589.49" cy="824.34" r="1.20" fill="#F8766D" fill-opacity="0.82"/><circle cx="589.49" cy="956.58" r="1.20" fill="#F8766D" fill-opacity="0.82"/><line x1="594.63" y1="826.12" x2="594.63" y2="950.36" stroke="#00BA38" stroke-width="2.4" stroke-opacity="0.82" stroke-linecap="round"/><circle cx="594.63" cy="826.12" r="1.20" fill="#00BA38" fill-opacity="0.82"/><circle cx="594.63" cy="950.36" r="1.20" fill="#00BA38" fill-opacity="0.82"/><line x1="599.77" y1="826.56" x2="599.77" y2="951.03" stroke="#619CFF" stroke-width="2.4" stroke-opacity="0.82" stroke-linecap="round"/><circle cx="599.77" cy="826.56" r="1.20" fill="#619CFF" fill-opacity="0.82"/><circle cx="599.77" cy="951.03" r="1.20" fill="#619CFF" fill-opacity="0.82"/><path d="M599.77 883.64L605.77 889.64L599.77 895.64L593.77 889.64Z" fill="#619CFF" fill-opacity="0.8"/><path d="M594.63 883.19L600.63 889.19L594.63 895.19L588.63 889.19Z" fill="#00BA38" fill-opacity="0.8"/><path d="M589.49 884.75L595.49 890.75L589.49 896.75L583.49 890.75Z" fill="#F8766D" fill-opacity="0.8"/><line x1="619.73" y1="818.79" x2="619.73" y2="952.14" stroke="#F8766D" stroke-width="2.4" stroke-opacity="0.82" stroke-linecap="round"/><circle cx="619.73" cy="818.79" r="1.20" fill="#F8766D" fill-opacity="0.82"/><circle cx="619.73" cy="952.14" r="1.20" fill="#F8766D" fill-opacity="0.82"/><line x1="624.87" y1="822.12" x2="624.87" y2="946.36" stroke="#00BA38" stroke-width="2.4" stroke-opacity="0.82" stroke-linecap="round"/><circle cx="624.87" cy="822.12" r="1.20" fill="#00BA38" fill-opacity="0.82"/><circle cx="624.87" cy="946.36" r="1.20" fill="#00BA38" fill-opacity="0.82"/><line x1="630.01" y1="822.78" x2="630.01" y2="947.47" stroke="#619CFF" stroke-width="2.4" stroke-opacity="0.82" stroke-linecap="round"/><circle cx="630.01" cy="822.78" r="1.20" fill="#619CFF" fill-opacity="0.82"/><circle cx="630.01" cy="947.47" r="1.20" fill="#619CFF" fill-opacity="0.82"/><path d="M630.01 879.86L636.01 885.86L630.01 891.86L624.01 885.86Z" fill="#619CFF" fill-opacity="0.8"/><path d="M624.87 878.31L630.87 884.31L624.87 890.31L618.87 884.31Z" fill="#00BA38" fill-opacity="0.8"/><path d="M619.73 879.86L625.73 885.86L619.73 891.86L613.73 885.86Z" fill="#F8766D" fill-opacity="0.8"/><line x1="649.97" y1="809.02" x2="649.97" y2="947.03" stroke="#F8766D" stroke-width="2.4" stroke-opacity="0.82" stroke-linecap="round"/><circle cx="649.97" cy="809.02" r="1.20" fill="#F8766D" fill-opacity="0.82"/><circle cx="649.97" cy="947.03" r="1.20" fill="#F8766D" fill-opacity="0.82"/><line x1="655.11" y1="816.12" x2="655.11" y2="941.03" stroke="#00BA38" stroke-width="2.4" stroke-opacity="0.82" stroke-linecap="round"/><circle cx="655.11" cy="816.12" r="1.20" fill="#00BA38" fill-opacity="0.82"/><circle cx="655.11" cy="941.03" r="1.20" fill="#00BA38" fill-opacity="0.82"/><line x1="660.25" y1="817.23" x2="660.25" y2="942.59" stroke="#619CFF" stroke-width="2.4" stroke-opacity="0.82" stroke-linecap="round"/><circle cx="660.25" cy="817.23" r="1.20" fill="#619CFF" fill-opacity="0.82"/><circle cx="660.25" cy="942.59" r="1.20" fill="#619CFF" fill-opacity="0.82"/><path d="M660.25 874.76L666.25 880.76L660.25 886.76L654.25 880.76Z" fill="#619CFF" fill-opacity="0.8"/><path d="M655.11 873.87L661.11 879.87L655.11 885.87L649.11 879.87Z" fill="#00BA38" fill-opacity="0.8"/><path d="M649.97 872.76L655.97 878.76L649.97 884.76L643.97 878.76Z" fill="#F8766D" fill-opacity="0.8"/><line x1="680.21" y1="797.25" x2="680.21" y2="934.82" stroke="#F8766D" stroke-width="2.4" stroke-opacity="0.82" stroke-linecap="round"/><circle cx="680.21" cy="797.25" r="1.20" fill="#F8766D" fill-opacity="0.82"/><circle cx="680.21" cy="934.82" r="1.20" fill="#F8766D" fill-opacity="0.82"/><line x1="685.35" y1="804.58" x2="685.35" y2="929.93" stroke="#00BA38" stroke-width="2.4" stroke-opacity="0.82" stroke-linecap="round"/><circle cx="685.35" cy="804.58" r="1.20" fill="#00BA38" fill-opacity="0.82"/><circle cx="685.35" cy="929.93" r="1.20" fill="#00BA38" fill-opacity="0.82"/><line x1="690.49" y1="806.13" x2="690.49" y2="931.93" stroke="#619CFF" stroke-width="2.4" stroke-opacity="0.82" stroke-linecap="round"/><circle cx="690.49" cy="806.13" r="1.20" fill="#619CFF" fill-opacity="0.82"/><circle cx="690.49" cy="931.93" r="1.20" fill="#619CFF" fill-opacity="0.82"/><path d="M690.49 863.65L696.49 869.65L690.49 875.65L684.49 869.65Z" fill="#619CFF" fill-opacity="0.8"/><path d="M685.35 862.54L691.35 868.54L685.35 874.54L679.35 868.54Z" fill="#00BA38" fill-opacity="0.8"/><path d="M680.21 860.55L686.21 866.55L680.21 872.55L674.21 866.55Z" fill="#F8766D" fill-opacity="0.8"/><path d="M73.80 786.20V1017.20H722.40" fill="none" stroke="#000" stroke-width="2.2" stroke-linejoin="miter" stroke-linecap="square"/><line x1="66.60" y1="1012.10" x2="73.80" y2="1012.10" stroke="#000" stroke-width="2.2" stroke-linecap="butt"/><text x="33.91" y="1021.30" font-size="24.0">2</text><text x="47.26" y="1021.30" font-size="24.0">0</text><line x1="66.60" y1="940.70" x2="73.80" y2="940.70" stroke="#000" stroke-width="2.2" stroke-linecap="butt"/><text x="33.91" y="949.90" font-size="24.0">2</text><text x="47.26" y="949.90" font-size="24.0">5</text><line x1="66.60" y1="869.30" x2="73.80" y2="869.30" stroke="#000" stroke-width="2.2" stroke-linecap="butt"/><text x="33.91" y="878.50" font-size="24.0">3</text><text x="47.26" y="878.50" font-size="24.0">0</text><line x1="66.60" y1="797.90" x2="73.80" y2="797.90" stroke="#000" stroke-width="2.2" stroke-linecap="butt"/><text x="33.91" y="807.10" font-size="24.0">3</text><text x="47.26" y="807.10" font-size="24.0">5</text><line x1="80.21" y1="1017.20" x2="80.21" y2="1024.00" stroke="#000" stroke-width="2.2" stroke-linecap="butt"/><text x="73.54" y="1047.00" font-size="24.0">0</text><line x1="231.42" y1="1017.20" x2="231.42" y2="1024.00" stroke="#000" stroke-width="2.2" stroke-linecap="butt"/><text x="224.75" y="1047.00" font-size="24.0">5</text><line x1="382.63" y1="1017.20" x2="382.63" y2="1024.00" stroke="#000" stroke-width="2.2" stroke-linecap="butt"/><path transform="translate(369.29 1047.00) scale(0.0240 -0.0240)" d="M354 0L262 0L262 496L100 496L100 565C200 572 250 605 272 702L354 702Z"/><text x="382.63" y="1047.00" font-size="24.0">0</text><line x1="533.84" y1="1017.20" x2="533.84" y2="1024.00" stroke="#000" stroke-width="2.2" stroke-linecap="butt"/><path transform="translate(520.50 1047.00) scale(0.0240 -0.0240)" d="M354 0L262 0L262 496L100 496L100 565C200 572 250 605 272 702L354 702Z"/><text x="533.84" y="1047.00" font-size="24.0">5</text><line x1="685.05" y1="1017.20" x2="685.05" y2="1024.00" stroke="#000" stroke-width="2.2" stroke-linecap="butt"/><text x="671.71" y="1047.00" font-size="24.0">2</text><text x="685.05" y="1047.00" font-size="24.0">0</text><text x="397.60" y="1078.70" font-size="28.2" text-anchor="middle">Quantile</text><text transform="translate(20.6 901.95) rotate(-90)" x="0" y="0" font-size="28.2" text-anchor="middle">Mean (SD)</text><text x="750.0" y="803.10" font-size="28.2">Method</text><line x1="752.9" y1="835.80" x2="777.1" y2="835.80" stroke="#F8766D" stroke-width="2.4" stroke-opacity="0.82"/><path d="M765.00 829.80L771.00 835.80L765.00 841.80L759.00 835.80Z" fill="#F8766D" fill-opacity="0.8"/><line x1="752.9" y1="900.50" x2="777.1" y2="900.50" stroke="#00BA38" stroke-width="2.4" stroke-opacity="0.82"/><path d="M765.00 894.50L771.00 900.50L765.00 906.50L759.00 900.50Z" fill="#00BA38" fill-opacity="0.8"/><line x1="752.9" y1="986.50" x2="777.1" y2="986.50" stroke="#619CFF" stroke-width="2.4" stroke-opacity="0.82"/><path d="M765.00 980.50L771.00 986.50L765.00 992.50L759.00 986.50Z" fill="#619CFF" fill-opacity="0.8"/><text x="794.4" y="844.00" font-size="24.0">Observed</text><text x="794.4" y="896.10" font-size="24.0">Estimated</text><text x="794.4" y="922.20" font-size="24.0">(Observed R2)</text><text x="794.4" y="969.40" font-size="24.0">Estimated</text><text x="794.4" y="995.10" font-size="24.0">(lassosum R2)</text></g>
</svg></body></html>
